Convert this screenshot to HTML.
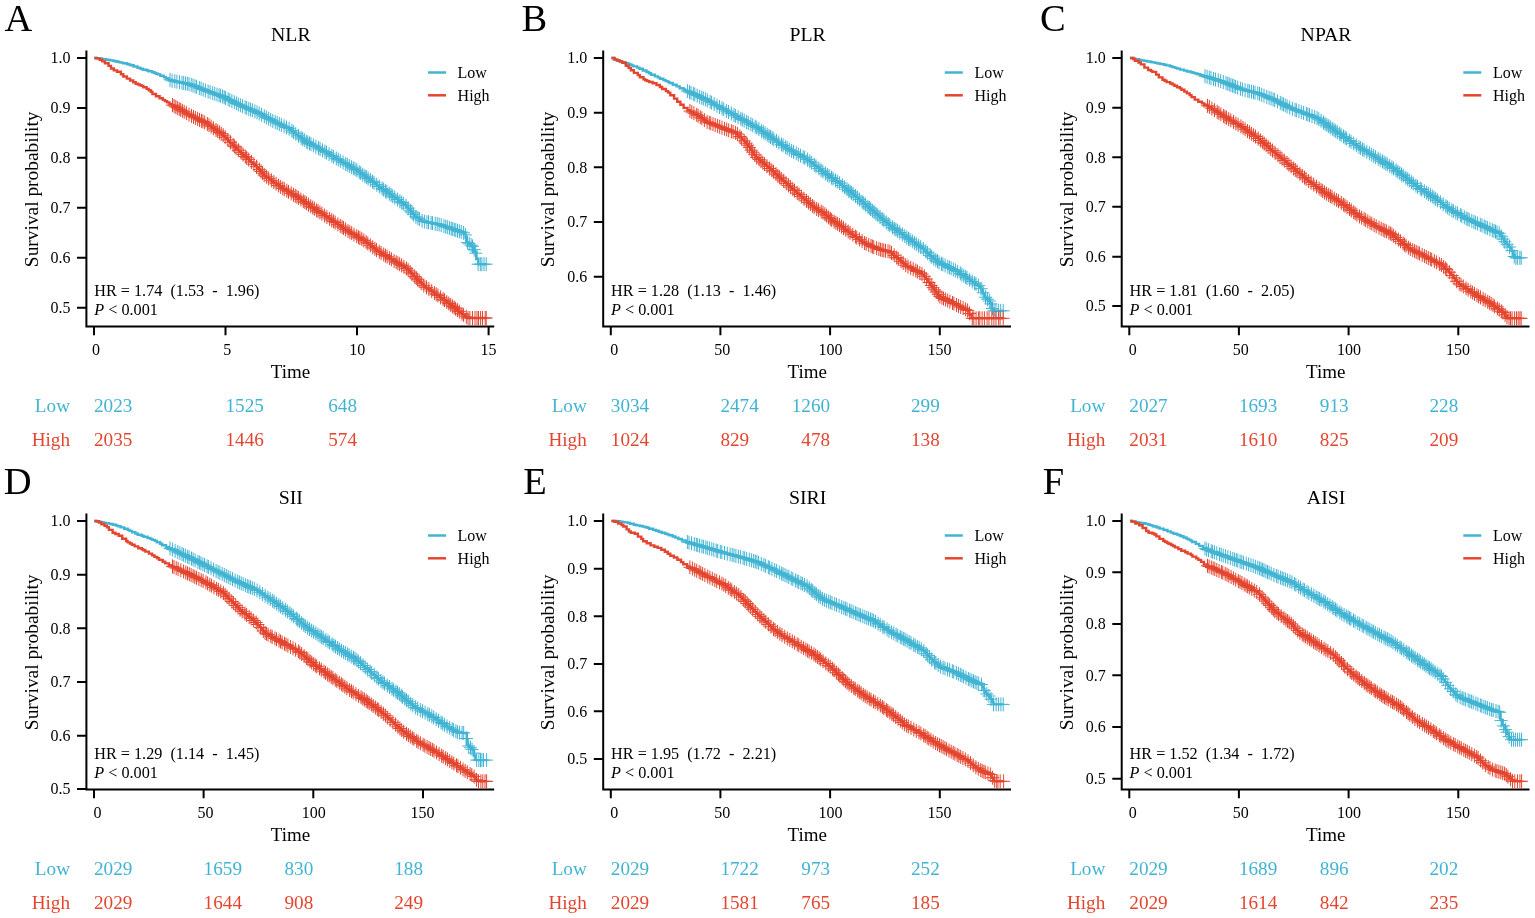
<!DOCTYPE html>
<html><head><meta charset="utf-8"><title>Kaplan-Meier curves</title>
<style>html,body{margin:0;padding:0;background:#fff;overflow:hidden;}svg{display:block;}</style></head>
<body><svg width="1535" height="918" viewBox="0 0 1535 918" font-family='"Liberation Serif", serif' fill="#000">
<rect width="1535" height="918" fill="#fff"/>
<g transform="translate(0 0)">
<text x="4.6" y="31" font-size="38.5">A</text>
<text x="290.8" y="41.1" font-size="19.8" text-anchor="middle">NLR</text>
<path d="M86.4 50.5V327.6M85.4 326.6H494.2" fill="none" stroke="#000" stroke-width="2"/>
<text x="70.4" y="63.4" font-size="16" text-anchor="end">1.0</text>
<text x="70.4" y="113.4" font-size="16" text-anchor="end">0.9</text>
<text x="70.4" y="163.1" font-size="16" text-anchor="end">0.8</text>
<text x="70.4" y="213.1" font-size="16" text-anchor="end">0.7</text>
<text x="70.4" y="263.1" font-size="16" text-anchor="end">0.6</text>
<text x="70.4" y="313.1" font-size="16" text-anchor="end">0.5</text>
<text x="96" y="354.8" font-size="16" text-anchor="middle">0</text>
<text x="227.3" y="354.8" font-size="16" text-anchor="middle">5</text>
<text x="357.3" y="354.8" font-size="16" text-anchor="middle">10</text>
<text x="488.6" y="354.8" font-size="16" text-anchor="middle">15</text>
<path d="M77 58H86M77 108H86M77 157.7H86M77 207.7H86M77 257.7H86M77 307.7H86M94 326V335.3M225.5 326V335.3M357 326V335.3M488.6 326V335.3" fill="none" stroke="#000" stroke-width="2"/>
<text x="290.5" y="377.7" font-size="19" text-anchor="middle">Time</text>
<text transform="translate(37.6 189.3) rotate(-90)" font-size="19.4" text-anchor="middle">Survival probability</text>
<path d="M94.3 58H96.6V58.2H98.5V58.5H101.6V58.9H103.3V59.3H106.1V59.7H108.5V60H110.2V60.4H113V60.8H114.6V61.3H117.1V61.7H118.8V62.1H120.5V62.6H123.1V63.3H126.7V64H128.5V64.5H130.5V65.2H133.6V66.5H137.5V67.7H140.4V68.7H142.9V69.7H146.9V70.5H148.5V71.3H152.1V72.3H154.3V73H156.2V73.7H158V74.4H160.3V75.7H163.8V77.1H165.8V78.3H168.7V79.8H171.8V80.8H173.2V81.1H174.9V81.4H175.8V81.5H176.7V81.7H177.8V82H179.7V82.4H181.2V82.6H182.5V82.9H184.2V83.2H185.7V83.5H187V83.8H189.1V84.2H191V84.8H192.2V85.4H193.9V86.1H195.6V86.8H197.8V87.7H199.7V88.3H201V89H203.4V89.7H204.3V90.2H205.8V90.8H207.8V91.4H208.9V91.9H210.5V92.3H211.3V92.8H213.2V93.5H215.2V94.1H216.9V94.8H219.1V95.4H220.4V96H222.3V96.7H224.1V97.5H225.8V98.3H227.3V99.2H229.5V100.4H231.8V101.3H233.4V102.2H235.2V102.8H236.1V103.6H238V104.5H239.9V105.5H242.3V106.4H244.4V107.1H245.6V107.7H247.1V108.3H248.9V108.9H249.8V109.4H251.3V110H252.4V110.4H253.4V110.8H254.3V111.4H256.3V112H257.3V112.6H258.5V113.4H259.9V114.3H262.1V115.2H263V115.8H264.6V116.7H266.2V117.8H268.4V118.9H270.6V120.1H272.7V121H274V121.7H275.4V122.4H276.8V123.2H279V124.3H281.4V125.1H282.4V125.6H283.5V126.2H284.7V126.7H285.8V127.4H287.4V128.2H289.2V128.9H290.4V129.6H291.2V130.5H292.7V131.6H294V132.8H295.7V134.4H298.1V136H300V137.3H301.6V138.6H303.4V140H305.3V141H306.2V142H308.4V143.1H310.4V144.3H312.6V145.4H314.7V146.3H316.2V147.1H317.6V147.7H318.6V148.5H320.4V149.2H321.3V149.7H322.2V150.2H323.3V150.8H324.4V151.5H325.7V152.2H326.6V152.7H327.4V153.3H328.4V153.9H329.4V154.6H330.8V155.2H331.6V156.1H333.8V157.3H335.6V158.2H336.6V158.9H337.8V159.6H339.2V160.4H340.6V161.1H341.6V162H343.7V163.3H346.1V164.4H347.7V165.3H349.3V166H350.2V166.6H351.2V167.2H352.5V168H353.7V168.9H355.8V169.8H356.9V170.5H357.7V171.6H360.1V173H361.7V174H362.7V175H364.4V175.9H365.3V176.8H366.9V178.2H369.3V179.9H371.5V181.4H373.4V182.5H374.6V183.4H376V184.3H377V185.4H379.1V186.7H380.7V188.1H382.8V189.3H384.1V190.2H385.3V191.3H387.4V193H389.7V194.6H391.9V196.1H394V197.6H396.1V199.1H398.1V200.2H399.2V201.2H400.9V202.3H402.2V203.1H403.1V203.7H403.9V204.5H405.2V205.3H406.4V206.8H408.3V209.3H410.6V211.6H412.1V213.9H414.4V216.4H416.8V217.9H419.2V219.1H420.5V219.9H421.7V220.6H422.8V221.3H424V221.5H425.1V221.8H426.9V222.2H429.1V222.7H431.3V223H432.8V223.4H434.7V223.8H436.8V224.1H437.7V224.3H439.6V224.8H441.8V225.6H443.9V226.3H445.9V226.9H447.4V227.4H448.5V227.9H450.6V228.5H451.9V229.1H454V229.8H456.3V230.5H457.8V230.9H459.2V231.6H461.5V232.3H463.5V232.8H464.6V233.2H465.6V237.5H466.6V242.5H468.9V244.1H471V245.3H472V246.5H474.1V251.6H476.5V259H478.3V264.2H479.7H481.4H482.4H483.2H485.6H486.2" fill="none" stroke="#42B4D3" stroke-width="2.4"/>
<path d="M170 72.8v14M172.1 73.8v14M174.8 74.3v14M176.9 74.7v14M179.5 75.2v14M182 75.7v14M183.7 76v14M185.5 76.4v14M187.3 76.7v14M189 77.1v14M191.2 77.8v14M193 78.5v14M195 79.3v14M196.6 79.9v14M199.3 81v14M201.1 81.7v14M203.2 82.5v14M205.4 83.4v14M208.1 84.4v14M210.1 85.1v14M212.7 86.1v14M214.8 86.8v14M217 87.6v14M219.1 88.3v14M220.6 88.8v14M222.6 89.5v14M224.2 90.3v14M225.6 91v14M228.1 92.3v14M229.8 93.1v14M231.9 94.1v14M234.3 95.3v14M236.4 96.4v14M238.3 97.3v14M240.4 98.3v14M242.6 99.2v14M245.1 100.3v14M246.7 100.9v14M248.8 101.8v14M250.6 102.6v14M252.4 103.3v14M254.9 104.4v14M257 105.3v14M259.2 106.5v14M261.6 107.8v14M264.3 109.3v14M266.3 110.4v14M268.6 111.6v14M270.7 112.7v14M272.8 113.9v14M275.2 115v14M277.2 116v14M279.3 117v14M281.4 118v14M284.1 119.3v14M286.5 120.5v14M289.1 121.7v14M291.9 123.7v14M293.6 125.1v14M295.8 126.8v14M298.5 128.9v14M301.1 130.8v14M302.7 132v14M304.3 133.1v14M306.3 134.6v14M307.8 135.4v14M309.5 136.4v14M311 137.2v14M313.4 138.4v14M315.9 139.7v14M318.5 141.1v14M320.1 142v14M322.5 143.3v14M324.9 144.6v14M326.5 145.6v14M329.1 147.1v14M331.8 148.8v14M333.6 149.8v14M336.3 151.5v14M338.2 152.6v14M340.3 153.9v14M343.1 155.4v14M345.7 156.9v14M347.3 157.8v14M349.3 159v14M351.4 160.2v14M353.3 161.2v14M355 162.2v14M356.8 163.3v14M359.2 165.1v14M360.7 166.1v14M362.8 167.7v14M364.9 169.1v14M366.3 170.1v14M368.1 171.5v14M370.4 173.1v14M372.5 174.7v14M374 175.7v14M376.8 177.7v14M379.3 179.5v14M382.1 181.5v14M383.6 182.6v14M385.4 183.9v14M386.8 184.9v14M389.3 186.7v14M391.1 188v14M392.7 189.2v14M394.7 190.6v14M397.4 192.5v14M399.9 194.3v14M401.7 195.6v14M403.3 196.8v14M406 198.7v14M408.2 201.1v14M410.5 204v14M412.1 205.8v14M413.6 207.6v14M415.9 209.8v14M417.9 211v14M419.4 212v14M422.1 213.7v14M424.4 214.6v14M426.9 215.1v14M428.5 215.4v14M431.1 215.9v14M432.5 216.2v14M435.2 216.7v14M437.2 217.1v14M439.1 217.5v14M441.2 218.1v14M443.9 219.1v14M445.7 219.7v14M447.3 220.2v14M449.4 221v14M451.2 221.6v14M452.7 222.1v14M454.3 222.7v14M455.8 223.1v14M457.5 223.7v14M459.3 224.3v14M461.2 224.9v14M463.6 225.8v14M465.4 227.9v14M467.5 235.6v14M469.2 236.8v14M471.1 238.2v14M472.5 239.3v14M474.2 242.7v14M475.7 246.2v14M478.1 257.2v14M480.3 257.2v14M481.9 257.2v14M484 257.2v14M486.2 257.2v14" fill="none" stroke="#42B4D3" stroke-width="1"/>
<path d="M163.5 79.8h13M165.6 80.8h13M168.3 81.3h13M170.4 81.7h13M173 82.2h13M175.5 82.7h13M177.2 83h13M179 83.4h13M180.8 83.7h13M182.5 84.1h13M184.7 84.8h13M186.5 85.5h13M188.5 86.3h13M190.1 86.9h13M192.8 88h13M194.6 88.7h13M196.7 89.5h13M198.9 90.4h13M201.6 91.4h13M203.6 92.1h13M206.2 93.1h13M208.3 93.8h13M210.5 94.6h13M212.6 95.3h13M214.1 95.8h13M216.1 96.5h13M217.7 97.3h13M219.1 98h13M221.6 99.3h13M223.3 100.1h13M225.4 101.1h13M227.8 102.3h13M229.9 103.4h13M231.8 104.3h13M233.9 105.3h13M236.1 106.2h13M238.6 107.3h13M240.2 107.9h13M242.3 108.8h13M244.1 109.6h13M245.9 110.3h13M248.4 111.4h13M250.5 112.3h13M252.7 113.5h13M255.1 114.8h13M257.8 116.3h13M259.8 117.4h13M262.1 118.6h13M264.2 119.7h13M266.3 120.9h13M268.7 122h13M270.7 123h13M272.8 124h13M274.9 125h13M277.6 126.3h13M280 127.5h13M282.6 128.7h13M285.4 130.7h13M287.1 132.1h13M289.3 133.8h13M292 135.9h13M294.6 137.8h13M296.2 139h13M297.8 140.1h13M299.8 141.6h13M301.3 142.4h13M303 143.4h13M304.5 144.2h13M306.9 145.4h13M309.4 146.7h13M312 148.1h13M313.6 149h13M316 150.3h13M318.4 151.6h13M320 152.6h13M322.6 154.1h13M325.3 155.8h13M327.1 156.8h13M329.8 158.5h13M331.7 159.6h13M333.8 160.9h13M336.6 162.4h13M339.2 163.9h13M340.8 164.8h13M342.8 166h13M344.9 167.2h13M346.8 168.2h13M348.5 169.2h13M350.3 170.3h13M352.7 172.1h13M354.2 173.1h13M356.3 174.7h13M358.4 176.1h13M359.8 177.1h13M361.6 178.5h13M363.9 180.1h13M366 181.7h13M367.5 182.7h13M370.3 184.7h13M372.8 186.5h13M375.6 188.5h13M377.1 189.6h13M378.9 190.9h13M380.3 191.9h13M382.8 193.7h13M384.6 195h13M386.2 196.2h13M388.2 197.6h13M390.9 199.5h13M393.4 201.3h13M395.2 202.6h13M396.8 203.8h13M399.5 205.7h13M401.7 208.1h13M404 211h13M405.6 212.8h13M407.1 214.6h13M409.4 216.8h13M411.4 218h13M412.9 219h13M415.6 220.7h13M417.9 221.6h13M420.4 222.1h13M422 222.4h13M424.6 222.9h13M426 223.2h13M428.7 223.7h13M430.7 224.1h13M432.6 224.5h13M434.7 225.1h13M437.4 226.1h13M439.2 226.7h13M440.8 227.2h13M442.9 228h13M444.7 228.6h13M446.2 229.1h13M447.8 229.7h13M449.3 230.1h13M451 230.7h13M452.8 231.3h13M454.7 231.9h13M457.1 232.8h13M458.9 234.9h13M461 242.6h13M462.7 243.8h13M464.6 245.2h13M466 246.3h13M467.7 249.7h13M469.2 253.2h13M471.6 264.2h13M473.8 264.2h13M475.4 264.2h13M477.5 264.2h13M479.7 264.2h13" fill="none" stroke="#42B4D3" stroke-width="1"/>
<path d="M94.3 58H96.1V58.4H99.6V59.8H102.2V61.4H104.9V63.3H108.5V65.9H111V68.5H113.8V70.4H117V71.8H120.9V74.2H123.3V76.5H126.9V78.6H130.1V80.5H133.2V82.2H135.7V83.7H138.1V84.5H139.8V85.2H141.6V85.9H143.3V87.3H146.6V88.9H148.7V90.3H150.7V91.8H152.4V94H156V96.2H159.6V98.3H162.8V99.9H165V101.1H167.1V102.4H169.4V103.9H172V105.2H173.9V106.2H175.4V107H176.6V108H179V109.4H181.3V110.5H183V111.3H184.2V112.3H186.5V113.4H187.8V114.2H189.2V114.8H190V115.4H191.4V116.1H193V116.9H194.6V117.6H195.7V118.2H197.3V118.8H198.1V119.3H199.3V119.9H200.3V120.5H201.7V121H202.6V121.5H203.4V122H204.7V122.6H205.9V123.3H207.6V124.5H209.3V125.8H211.3V127.2H213.1V128.5H215.1V130H217.3V131.3H218.7V132.2H220V133.5H222.4V134.7H223.4V136.1H225.4V138H227.2V139.3H228.1V140.8H230.2V143H232.5V144.9H234.3V146.8H236.2V148.8H238.3V150.4H239.4V151.7H241V153.1H242.6V154.8H244.7V156.7H246.8V158.6H249V160.3H250.7V162.1H252.9V164H254.8V165.7H256.7V167.2H257.9V168.2H258.7V169.3H259.8V170.6H261.1V171.8H262.1V173.5H264.2V175.6H265.9V176.8H267.7V178.1H269.5V179.4H271.4V180.7H273V181.5H273.8V182.6H275.9V184H277.9V185.3H279.5V186.5H281.1V187.7H283V188.6H283.9V189.4H285.9V190.4H287.1V191H288V191.7H289.2V192.6H291.2V193.6H292.3V194.5H294.3V195.8H296.7V197H298.3V198H299.7V199H301.2V200.2H303.1V201.5H305.2V202.8H306.9V204.1H308.8V205H309.7V205.7H310.7V206.5H311.9V207.6H313.9V208.7H315.2V209.7H316.9V210.5H317.7V211.1H318.6V211.8H319.9V212.8H321.8V214.1H323.7V215.3H325.5V216.4H326.8V217.3H328.4V218.4H330V219.4H331.5V220.2H332.5V221.3H334.7V222.4H335.9V223.5H338.2V225.1H340.5V226.1H341.3V226.9H342.9V228.1H345V229.6H347.3V230.9H348.9V231.7H350.1V232.4H351.2V233.4H353.5V234.5H354.7V235.3H356.4V236.2H357.4V237H359.1V238.1H361.4V239.1H362.4V240.1H364.5V241.3H366.1V242.7H368.4V244.3H370.3V245.5H371.5V246.8H373.7V248.3H375.3V249.2H376.1V249.9H376.9V250.6H378.5V251.6H380V252.5H381.3V253.2H382.3V253.9H383.7V254.8H385V255.8H387.1V256.8H387.9V257.6H389.9V258.9H392.1V259.8H393.1V260.8H395.3V262.1H397.3V263.3H399.5V264.4H400.8V265.2H402.2V266H403.6V267.2H406V268.5H407.8V270.1H409.1V271.5H410.6V272.9H411.9V273.9H412.7V274.9H413.7V276.4H415.8V278.1H417.1V279.9H419.4V281.7H420.6V282.9H421.8V284.3H423.4V285.5H424.5V286.4H425.9V287.7H428.3V289.3H430.5V290.8H432.6V292.1H434.4V293.6H436.7V295.2H439V296.6H440.6V297.9H442.6V299H443.5V300H445.4V301.4H447V302.7H449V304.1H450.8V305.3H452.1V306.1H452.9V307.3H455.2V308.6H456.2V309.6H457.8V310.7H459.1V311.8H460.4V313.1H462.4V314.6H464.7V315.9H466V317H467.8V318H469.1H470.8H472.2H473.3H474.3H475.5H477.7H479.3H480.5H482.7H485.1H486.2" fill="none" stroke="#E4452F" stroke-width="2.4"/>
<path d="M172.5 98.1v14M174.1 99v14M175.8 100v14M177.3 100.9v14M179.2 102v14M180.7 102.8v14M182.4 103.8v14M184.2 104.8v14M186.4 106.1v14M189 107.6v14M191.5 108.9v14M193.5 109.9v14M195.4 110.9v14M197.6 111.9v14M199.5 112.9v14M201.4 113.8v14M202.9 114.5v14M204.7 115.4v14M207.4 117v14M209 118.1v14M211.1 119.6v14M213.4 121.2v14M216 123v14M217.7 124.2v14M219.5 125.5v14M221.2 126.7v14M223.2 128.2v14M225.2 130.2v14M227.9 132.9v14M230.5 135.4v14M233.1 138v14M234.6 139.4v14M236 140.9v14M238.4 143.2v14M241.1 145.7v14M243.1 147.6v14M245.3 149.6v14M246.7 150.8v14M248.7 152.6v14M251.4 155v14M253.9 157.3v14M256.5 159.7v14M259.3 162.6v14M261.1 164.5v14M262.6 166.2v14M264.2 168v14M266.4 169.7v14M268.7 171.4v14M271.4 173.3v14M273.8 175.1v14M276.1 176.7v14M278.6 178.5v14M280.7 180v14M282.8 181.4v14M284.3 182.2v14M286.8 183.7v14M288.5 184.8v14M291.2 186.4v14M293.5 187.8v14M295.3 188.9v14M296.9 189.8v14M298.6 190.9v14M300.9 192.5v14M303.3 194.2v14M304.9 195.2v14M306.4 196.3v14M308.5 197.7v14M310.7 199.3v14M312.7 200.6v14M314.4 201.8v14M316.6 203.3v14M318 204.2v14M319.9 205.4v14M321.9 206.7v14M324.6 208.6v14M326.9 210.1v14M329.6 211.8v14M331.7 213.2v14M333.4 214.3v14M335.1 215.5v14M337.9 217.3v14M340.3 218.9v14M342.1 220.1v14M343.5 221v14M345.6 222.4v14M348 224v14M349.9 225.2v14M351.7 226.2v14M354 227.6v14M356.7 229.2v14M358.5 230.3v14M359.9 231.1v14M361.8 232.2v14M363.8 233.4v14M366.1 235.1v14M367.8 236.4v14M370.3 238.3v14M372.7 240.2v14M374.9 241.8v14M376.5 243.1v14M379.3 244.8v14M381.1 246v14M383.7 247.5v14M385.4 248.6v14M387.1 249.7v14M389.6 251.2v14M391.4 252.3v14M394.1 254v14M396.2 255.2v14M397.9 256.2v14M399.6 257.2v14M401.6 258.4v14M403.9 259.8v14M406.6 261.5v14M408.2 263.2v14M410.2 265.1v14M411.9 266.8v14M414.7 269.6v14M416.3 271.2v14M417.7 272.7v14M419.2 274.2v14M421.2 276.2v14M423.8 278.6v14M426.5 280.4v14M428.9 282.1v14M431.7 284.1v14M434.4 286v14M436.2 287.3v14M437.9 288.4v14M440.6 290.4v14M443.1 292.2v14M444.5 293.3v14M446.8 295.1v14M448.8 296.5v14M450.7 298v14M452.6 299.4v14M454.2 300.6v14M455.6 301.7v14M457.4 303.1v14M459.3 304.6v14M462 306.7v14M463.6 307.9v14M466.3 309.8v14M468 311v14M469.9 311v14M472.5 311v14M475 311v14M477 311v14M478.5 311v14M480.6 311v14M482.5 311v14M485.2 311v14M486.2 311v14" fill="none" stroke="#E4452F" stroke-width="1"/>
<path d="M166 105.1h13M167.6 106h13M169.3 107h13M170.8 107.9h13M172.7 109h13M174.2 109.8h13M175.9 110.8h13M177.7 111.8h13M179.9 113.1h13M182.5 114.6h13M185 115.9h13M187 116.9h13M188.9 117.9h13M191.1 118.9h13M193 119.9h13M194.9 120.8h13M196.4 121.5h13M198.2 122.4h13M200.9 124h13M202.5 125.1h13M204.6 126.6h13M206.9 128.2h13M209.5 130h13M211.2 131.2h13M213 132.5h13M214.7 133.7h13M216.7 135.2h13M218.7 137.2h13M221.4 139.9h13M224 142.4h13M226.6 145h13M228.1 146.4h13M229.5 147.9h13M231.9 150.2h13M234.6 152.7h13M236.6 154.6h13M238.8 156.6h13M240.2 157.8h13M242.2 159.6h13M244.9 162h13M247.4 164.3h13M250 166.7h13M252.8 169.6h13M254.6 171.5h13M256.1 173.2h13M257.7 175h13M259.9 176.7h13M262.2 178.4h13M264.9 180.3h13M267.3 182.1h13M269.6 183.7h13M272.1 185.5h13M274.2 187h13M276.3 188.4h13M277.8 189.2h13M280.3 190.7h13M282 191.8h13M284.7 193.4h13M287 194.8h13M288.8 195.9h13M290.4 196.8h13M292.1 197.9h13M294.4 199.5h13M296.8 201.2h13M298.4 202.2h13M299.9 203.3h13M302 204.7h13M304.2 206.3h13M306.2 207.6h13M307.9 208.8h13M310.1 210.3h13M311.5 211.2h13M313.4 212.4h13M315.4 213.7h13M318.1 215.6h13M320.4 217.1h13M323.1 218.8h13M325.2 220.2h13M326.9 221.3h13M328.6 222.5h13M331.4 224.3h13M333.8 225.9h13M335.6 227.1h13M337 228h13M339.1 229.4h13M341.5 231h13M343.4 232.2h13M345.2 233.2h13M347.5 234.6h13M350.2 236.2h13M352 237.3h13M353.4 238.1h13M355.3 239.2h13M357.3 240.4h13M359.6 242.1h13M361.3 243.4h13M363.8 245.3h13M366.2 247.2h13M368.4 248.8h13M370 250.1h13M372.8 251.8h13M374.6 253h13M377.2 254.5h13M378.9 255.6h13M380.6 256.7h13M383.1 258.2h13M384.9 259.3h13M387.6 261h13M389.7 262.2h13M391.4 263.2h13M393.1 264.2h13M395.1 265.4h13M397.4 266.8h13M400.1 268.5h13M401.7 270.2h13M403.7 272.1h13M405.4 273.8h13M408.2 276.6h13M409.8 278.2h13M411.2 279.7h13M412.7 281.2h13M414.7 283.2h13M417.3 285.6h13M420 287.4h13M422.4 289.1h13M425.2 291.1h13M427.9 293h13M429.7 294.3h13M431.4 295.4h13M434.1 297.4h13M436.6 299.2h13M438 300.3h13M440.3 302.1h13M442.3 303.5h13M444.2 305h13M446.1 306.4h13M447.7 307.6h13M449.1 308.7h13M450.9 310.1h13M452.8 311.6h13M455.5 313.7h13M457.1 314.9h13M459.8 316.8h13M461.5 318h13M463.4 318h13M466 318h13M468.5 318h13M470.5 318h13M472 318h13M474.1 318h13M476 318h13M478.7 318h13M479.7 318h13" fill="none" stroke="#E4452F" stroke-width="1"/>
<path d="M428 72.5H446" stroke="#42B4D3" stroke-width="2.5"/>
<path d="M428 95.3H446" stroke="#E4452F" stroke-width="2.5"/>
<text x="457.6" y="78" font-size="16">Low</text>
<text x="457.6" y="100.5" font-size="16">High</text>
<text x="94.3" y="296.4" font-size="16.2" xml:space="preserve">HR = 1.74  (1.53  -  1.96)</text>
<text x="94.3" y="315.4" font-size="16.2" xml:space="preserve"><tspan font-style="italic">P</tspan> &lt; 0.001</text>
<text x="70" y="412.4" font-size="19.2" text-anchor="end" fill="#42B4D3">Low</text>
<text x="70" y="445.7" font-size="19.2" text-anchor="end" fill="#E4452F">High</text>
<text x="94" y="412.4" font-size="19.2" text-anchor="start" fill="#42B4D3">2023</text>
<text x="225.5" y="412.4" font-size="19.2" text-anchor="start" fill="#42B4D3">1525</text>
<text x="357" y="412.4" font-size="19.2" text-anchor="end" fill="#42B4D3">648</text>
<text x="94" y="445.7" font-size="19.2" text-anchor="start" fill="#E4452F">2035</text>
<text x="225.5" y="445.7" font-size="19.2" text-anchor="start" fill="#E4452F">1446</text>
<text x="357" y="445.7" font-size="19.2" text-anchor="end" fill="#E4452F">574</text>
</g>
<g transform="translate(516.8 0)">
<text x="4.8" y="31" font-size="38.5">B</text>
<text x="290.8" y="41.1" font-size="19.8" text-anchor="middle">PLR</text>
<path d="M86.4 50.5V327.6M85.4 326.6H494.2" fill="none" stroke="#000" stroke-width="2"/>
<text x="70.4" y="63.4" font-size="16" text-anchor="end">1.0</text>
<text x="70.4" y="118.1" font-size="16" text-anchor="end">0.9</text>
<text x="70.4" y="172.7" font-size="16" text-anchor="end">0.8</text>
<text x="70.4" y="227.4" font-size="16" text-anchor="end">0.7</text>
<text x="70.4" y="282.1" font-size="16" text-anchor="end">0.6</text>
<text x="97.5" y="354.8" font-size="16" text-anchor="middle">0</text>
<text x="205.5" y="354.8" font-size="16" text-anchor="middle">50</text>
<text x="313.7" y="354.8" font-size="16" text-anchor="middle">100</text>
<text x="422.6" y="354.8" font-size="16" text-anchor="middle">150</text>
<path d="M77 58H86M77 112.7H86M77 167.3H86M77 222H86M77 276.7H86M94 326V335.3M203.6 326V335.3M313.3 326V335.3M423 326V335.3" fill="none" stroke="#000" stroke-width="2"/>
<text x="290.5" y="377.7" font-size="19" text-anchor="middle">Time</text>
<text transform="translate(37.6 189.3) rotate(-90)" font-size="19.4" text-anchor="middle">Survival probability</text>
<path d="M94.6 58H97V59.5H100.8V60.4H102.3V61.1H104.9V62.1H108.4V63.3H111.8V64.2H113.4V64.8H115V65.4H116.6V66.4H120.4V67.6H122.6V68.7H126V70.5H129.7V72H132.1V73.2H134.2V74.7H138.1V76.4H141.2V77.6H143.3V78.8H146.6V80.1H148.9V81.1H151.1V81.9H152.6V83H156V84.7H159.8V86.4H162.9V88.2H166.7V89.5H168.3V90.4H170.4V91.5H173.1V92.6H175.4V93.7H177.7V94.6H179.1V95.2H180.3V95.8H181.8V96.5H183.4V97.4H185.7V98.2H186.8V98.9H188.9V99.8H190.9V100.9H193V102.1H195V103.1H196.8V104H198.1V104.7H199.4V105.5H200.8V106.4H202.9V107.2H203.8V107.8H204.9V108.6H206.9V109.5H208.1V110.1H209V110.6H209.9V111.3H211.5V112.1H212.9V113.1H215.2V114.4H217.4V115.6H219.8V116.6H221V117.2H222V117.7H222.9V118.4H224.5V119.4H226.5V120.4H228V121.1H229.2V121.8H230.6V122.7H232.4V123.7H234.3V124.8H236.3V125.9H238.4V127H240.3V127.9H241.3V129H243.4V130.2H244.7V131.2H246.4V132.3H247.8V133.4H249.8V134.5H250.9V135.3H252.1V136.1H253.3V136.9H254.4V138H256.6V139.4H258.3V140.4H259.6V141.3H261.1V142.5H263.4V143.9H265.1V144.8H266.2V145.9H268.3V147.2H270.2V148.6H272.5V149.7H273.5V150.4H275.1V151.4H277.2V152.6H279.3V153.7H281.6V154.6H282.5V155.2H283.7V155.8H284.7V156.3H285.8V157.3H288.2V158.4H289.9V159.7H292.2V161.1H293.6V162.5H295.8V163.9H297.3V165H298.5V166.3H300.6V168H302.9V169.2H303.8V170.3H305.6V171.7H307.4V172.7H308.5V173.6H309.9V174.4H310.9V175.2H312.1V176H313.3V177H315V178.3H316.9V179.3H318V180H318.8V180.7H320.1V181.8H322V182.9H323.1V183.7H324.4V184.7H325.6V186H327.6V187.5H329.3V188.6H330.2V189.3H331.2V190.3H332.6V191.5H334.3V193H336.1V194.1H337.1V194.9H338.1V196.1H340V197.5H341.5V198.7H342.7V199.8H344V201.3H346.4V202.9H347.7V204.2H349.4V205.5H350.7V206.8H352.2V208.4H354.4V210.3H356.8V212H358.2V213H359.3V214.3H361.2V215.6H362.4V216.4H363.2V217.7H365.4V219.3H366.9V220.8H369V222.3H370.5V223.9H372.7V225.4H374.2V226.4H375.3V227.1H376.1V228H377.8V229.2H379.6V230.7H381.9V231.8H382.8V232.8H384.6V234H386V235H387.6V236H388.6V236.8H389.9V237.8H391.5V239.2H393.8V240.3H394.8V241.2H396.3V242.5H398.4V244H400.8V245.2H401.9V245.9H402.9V247H405.2V248.6H407.6V250.4H409.1V251.5H410V253H412.3V254.7H413.7V256.4H416V258.3H417.8V259.7H419.9V260.8H420.9V261.9H423V263H424.2V263.7H425.6V264.5H427.8V265.6H429.9V266.3H431V266.9H432.1V267.5H433.6V268.2H435.2V268.9H436.6V269.5H437.6V270H438.8V270.8H440.8V272.1H443V273.2H443.9V274.1H445.6V275.3H447.6V276.3H448.4V277.3H450.6V278.4H451.6V279.3H453.3V280.4H455V281.6H456.8V282.6H458.1V283.6H459.6V284.6H461.3V285.7H462.8V287.1H464.6V290.5H466.2V293.5H467.7V295.8H468.5V297.6H470.3V299.3H471.9V300.7H473V303.2H475.1V308.6H477.1V310.8H478.6H479.7H481.3H482.3H483.3H484.8H485.7H486.4" fill="none" stroke="#42B4D3" stroke-width="2.4"/>
<path d="M170.6 84.1v14M172.7 85.1v14M174.2 85.8v14M176.5 86.8v14M178 87.5v14M180.4 88.6v14M182.9 89.8v14M185 90.7v14M186.5 91.4v14M188.6 92.4v14M190.5 93.3v14M193.3 94.8v14M194.8 95.7v14M197.4 97.2v14M200.2 98.7v14M202.7 100v14M205.2 101.4v14M206.9 102.3v14M209.6 103.9v14M211.7 105v14M214.5 106.5v14M217.2 108v14M218.8 108.9v14M221.3 110.3v14M224 111.7v14M225.5 112.6v14M227.4 113.6v14M229.8 115v14M231.5 115.9v14M234.1 117.3v14M235.9 118.3v14M238.4 119.7v14M240 120.6v14M242.1 122v14M244.8 123.9v14M246.5 125.1v14M248.3 126.3v14M250.4 127.7v14M252.2 129v14M253.7 130v14M255.4 131.1v14M257 132.3v14M259.7 134v14M262 135.6v14M264.7 137.4v14M266.3 138.4v14M268.8 140.1v14M270.4 141.1v14M272.5 142.6v14M274.8 143.9v14M276.7 144.9v14M279.4 146.3v14M281.5 147.5v14M283.7 148.7v14M286.4 150.1v14M287.9 150.9v14M290.7 152.6v14M293 154.4v14M294.9 155.9v14M297.5 157.9v14M299.2 159.3v14M302 161.4v14M304.2 163.2v14M306.1 164.6v14M308.6 166.4v14M310.6 167.8v14M312.3 168.9v14M314.7 170.6v14M316.2 171.6v14M318.7 173.4v14M320.5 174.6v14M322.8 176.2v14M325.6 178.4v14M327.8 180.2v14M330.1 182.1v14M331.9 183.6v14M333.3 184.7v14M334.8 185.9v14M336.4 187.2v14M338.7 189v14M340.7 190.7v14M342.8 192.5v14M345.4 194.8v14M347 196.2v14M348.7 197.7v14M351.1 199.7v14M352.5 200.9v14M353.9 202.1v14M355.8 203.8v14M357.3 205.1v14M359.2 206.7v14M361 208.2v14M363.2 210v14M365.4 211.9v14M367.1 213.3v14M369.4 215.3v14M371.4 217v14M373 218.3v14M375.7 220.3v14M377.5 221.6v14M379.1 222.7v14M380.6 223.8v14M382.9 225.5v14M385.5 227.3v14M388 229.1v14M390 230.6v14M391.7 231.8v14M393.2 232.7v14M395.5 234.3v14M397.6 235.8v14M399.5 237.1v14M401.8 238.7v14M403.9 240.1v14M406.6 242v14M409 244.2v14M410.8 245.9v14M413.4 248.3v14M414.9 249.7v14M417 251.6v14M419 253v14M420.7 254.2v14M422.2 255.3v14M424.7 256.7v14M426.1 257.4v14M428.3 258.4v14M431 259.7v14M432.6 260.5v14M434.3 261.3v14M436.5 262.4v14M438.6 263.4v14M440.9 264.7v14M443.5 266.4v14M445.1 267.5v14M447 268.8v14M448.8 270v14M450.2 271v14M452.9 272.8v14M455.4 274.5v14M457.8 276.1v14M459.2 277v14M461.8 278.7v14M464.2 281.7v14M466.3 285.8v14M468.7 290.2v14M470.7 292.2v14M472.5 294v14M474 296.9v14M475.7 301.5v14M477.2 303.8v14M479.1 303.8v14M481.5 303.8v14M483.9 303.8v14M486.4 303.8v14" fill="none" stroke="#42B4D3" stroke-width="1"/>
<path d="M164.1 91.1h13M166.2 92.1h13M167.7 92.8h13M170 93.8h13M171.5 94.5h13M173.9 95.6h13M176.4 96.8h13M178.5 97.7h13M180 98.4h13M182.1 99.4h13M184 100.3h13M186.8 101.8h13M188.3 102.7h13M190.9 104.2h13M193.7 105.7h13M196.2 107h13M198.7 108.4h13M200.4 109.3h13M203.1 110.9h13M205.2 112h13M208 113.5h13M210.7 115h13M212.3 115.9h13M214.8 117.3h13M217.5 118.7h13M219 119.6h13M220.9 120.6h13M223.3 122h13M225 122.9h13M227.6 124.3h13M229.4 125.3h13M231.9 126.7h13M233.5 127.6h13M235.6 129h13M238.3 130.9h13M240 132.1h13M241.8 133.3h13M243.9 134.7h13M245.7 136h13M247.2 137h13M248.9 138.1h13M250.5 139.3h13M253.2 141h13M255.5 142.6h13M258.2 144.4h13M259.8 145.4h13M262.3 147.1h13M263.9 148.1h13M266 149.6h13M268.3 150.9h13M270.2 151.9h13M272.9 153.3h13M275 154.5h13M277.2 155.7h13M279.9 157.1h13M281.4 157.9h13M284.2 159.6h13M286.5 161.4h13M288.4 162.9h13M291 164.9h13M292.7 166.3h13M295.5 168.4h13M297.7 170.2h13M299.6 171.6h13M302.1 173.4h13M304.1 174.8h13M305.8 175.9h13M308.2 177.6h13M309.7 178.6h13M312.2 180.4h13M314 181.6h13M316.3 183.2h13M319.1 185.4h13M321.3 187.2h13M323.6 189.1h13M325.4 190.6h13M326.8 191.7h13M328.3 192.9h13M329.9 194.2h13M332.2 196h13M334.2 197.7h13M336.3 199.5h13M338.9 201.8h13M340.5 203.2h13M342.2 204.7h13M344.6 206.7h13M346 207.9h13M347.4 209.1h13M349.3 210.8h13M350.8 212.1h13M352.7 213.7h13M354.5 215.2h13M356.7 217h13M358.9 218.9h13M360.6 220.3h13M362.9 222.3h13M364.9 224h13M366.5 225.3h13M369.2 227.3h13M371 228.6h13M372.6 229.7h13M374.1 230.8h13M376.4 232.5h13M379 234.3h13M381.5 236.1h13M383.5 237.6h13M385.2 238.8h13M386.7 239.7h13M389 241.3h13M391.1 242.8h13M393 244.1h13M395.3 245.7h13M397.4 247.1h13M400.1 249h13M402.5 251.2h13M404.3 252.9h13M406.9 255.3h13M408.4 256.7h13M410.5 258.6h13M412.5 260h13M414.2 261.2h13M415.7 262.3h13M418.2 263.7h13M419.6 264.4h13M421.8 265.4h13M424.5 266.7h13M426.1 267.5h13M427.8 268.3h13M430 269.4h13M432.1 270.4h13M434.4 271.7h13M437 273.4h13M438.6 274.5h13M440.5 275.8h13M442.3 277h13M443.7 278h13M446.4 279.8h13M448.9 281.5h13M451.3 283.1h13M452.7 284h13M455.3 285.7h13M457.7 288.7h13M459.8 292.8h13M462.2 297.2h13M464.2 299.2h13M466 301h13M467.5 303.9h13M469.2 308.5h13M470.7 310.8h13M472.6 310.8h13M475 310.8h13M477.4 310.8h13M479.9 310.8h13" fill="none" stroke="#42B4D3" stroke-width="1"/>
<path d="M94.6 58H97.9V59.6H100V60.5H102.9V61.5H105.5V62.8H109V65.7H111.8V67.9H114V70.2H117.1V72.9H121V75.1H123V77.3H126.7V79.2H128.3V80.3H130.4V81.1H132.5V82H135.9V83.3H139.7V85H143.1V87H145.4V89H149.1V91.1H151.4V92.6H153.5V95.2H157.3V98.6H160.4V101.8H163.6V104.7H166.8V107.9H170.7V110.2H173.4V111.6H175.5V112.7H177.4V113.9H179.6V114.9H181.1V115.9H183.1V117.2H184.8V118.3H186.1V119.2H187.2V120.2H189V121.2H189.9V122H192.2V122.7H193.2V123.1H194.1V123.4H195V124.1H197.3V124.8H198.7V125.3H199.7V125.6H200.6V126H201.4V126.5H203.3V127.2H205.1V128H207.1V128.7H209V129.3H209.9V129.8H211.7V130.4H213.1V131H215.2V131.8H217.3V132.6H219.5V133.2H220.4V134.6H222.6V136.9H224.9V139.2H227.2V140.9H228.2V142H229.3V143.4H230.3V144.7H231.1V146.7H233.3V149.6H235.4V152.2H237.2V154.9H239.3V157.5H241.1V158.8H242.4V159.8H243.3V160.6H244.3V161.8H246.3V163.2H247.4V164.2H248.7V165.4H250.2V166.4H251.1V167.2H252.3V168.3H253.5V169.7H255.5V171.1H256.9V172.3H258.2V173.9H260.5V175.7H262.1V177.4H264.3V179.2H266.1V180.4H266.9V181.4H268.4V182.7H269.9V184.3H271.9V185.9H273.3V187.3H275.2V188.9H276.9V190.1H278V191.6H280.2V192.9H281.1V194.2H283.2V195.6H284.3V196.4H285.1V197.2H286.2V198.5H288.3V200.4H290.6V201.7H291.4V202.7H293V204H294.6V205.6H296.7V206.9H297.8V208H299.4V208.9H300.7V210H302.8V210.9H304.1V212H306.4V213.1H307.6V214.1H308.8V215.4H310.7V216.9H312.3V218H313.3V219.1H315.1V220.2H316V221.2H318.1V222.5H320V223.9H322V225.1H323.9V226.3H325.2V227.3H326.7V228.4H328.1V229.7H330.3V230.9H331.3V232H333.5V233.1H334.3V233.8H335.4V234.6H336.7V235.8H338.9V237.2H340.5V238.2H341.9V239.5H344.1V240.7H345.3V241.6H346.8V242.7H348.5V243.7H350.5V244.6H352.5V245.5H354.3V246.2H355.7V246.8H357V247.2H358.1V247.8H360.2V248.5H362.1V249.2H364.1V249.8H365.1V250.1H366.6V250.5H368.7V250.9H370.4V251.2H371.4V251.4H372.9V252.2H375.2V253.7H376.3V254.7H377.4V255.7H378.7V257.1H380.7V258.9H382.8V260.2H383.9V261.1H384.9V262H386.1V263.1H387.4V264.3H389.1V265.5H390.1V266.3H391.4V266.9H392.5V267.7H394.9V268.7H396.9V269.4H397.8V270.3H400.2V271.3H401.1V272H402.5V273.1H404.9V274.4H407V276.4H409V278.7H410.5V280.5H411.6V282.4H413.4V284.3H414.4V285.6H415.5V287.3H416.9V288.8H417.8V290.2H419.2V292.5H421.3V295.1H423.2V296.9H424.8V297.8H426.6V298.6H428.1V299.3H429.2V300H430.9V300.8H432.4V301.6H434.4V302.7H436.6V303.6H438.1V304.4H439.8V305.3H441.8V306.2H443.3V306.8H444.5V307.6H446.4V308.6H448.6V309.7H450.7V310.7H452.6V314.8H454.8V318.3H456.6H458.5H460H461.3H463.1H464.1H465.5H467.6H469.5H471.3H472.5H474H475.5H477.3H478.8H480.7H483H484H485.9H486.4" fill="none" stroke="#E4452F" stroke-width="2.4"/>
<path d="M173.1 104v14M175 105.1v14M177.1 106.3v14M179.9 107.8v14M181.3 108.7v14M183.5 110.2v14M185.1 111.3v14M187.6 113.1v14M190.3 114.9v14M192.5 115.7v14M194 116.3v14M196.2 117.2v14M198.4 118v14M200.8 119v14M202.9 119.8v14M205.2 120.7v14M207.8 121.7v14M209.9 122.5v14M211.9 123.3v14M214.6 124.3v14M216.3 124.9v14M218.6 125.8v14M220.6 127v14M223.1 129.5v14M224.6 131.1v14M227.4 133.9v14M229.3 136.2v14M230.8 138.2v14M232.6 140.6v14M234.5 143.2v14M235.9 145.2v14M237.9 147.8v14M239.9 150.5v14M242.3 152.5v14M244.2 154.1v14M246 155.7v14M247.7 157.1v14M250.1 159.2v14M252.8 161.5v14M255 163.3v14M256.7 164.8v14M259.2 167v14M261.1 168.8v14M262.8 170.3v14M264.4 171.8v14M266.9 174v14M269.4 176.3v14M271.7 178.4v14M273.8 180.2v14M276 182.1v14M277.7 183.6v14M280.4 186v14M282.3 187.6v14M284.6 189.6v14M287.2 191.7v14M289.7 193.8v14M291.8 195.6v14M293.6 197.1v14M295.8 198.9v14M297.3 200.3v14M299.9 202v14M301.8 203.1v14M304.4 204.7v14M306.2 205.7v14M308.1 207.2v14M309.8 208.7v14M311.8 210.4v14M313.5 211.8v14M314.9 213v14M317.3 214.6v14M319.1 215.8v14M320.8 216.9v14M322.7 218.1v14M324.7 219.6v14M326.7 221.1v14M329 222.8v14M331.4 224.5v14M333.3 225.9v14M336 227.7v14M338.6 229.6v14M340 230.6v14M342.6 232.4v14M345.3 234.2v14M347.8 236v14M349.4 236.8v14M351.9 237.9v14M354.2 238.9v14M355.6 239.6v14M357 240.2v14M359.8 241.1v14M362.1 242v14M363.8 242.6v14M365.4 243.1v14M367 243.4v14M368.7 243.8v14M371.2 244.3v14M373.1 244.7v14M374.7 246v14M377.4 248.3v14M379.9 250.5v14M381.5 251.9v14M384.2 254.2v14M386.4 256.1v14M388.9 258.2v14M391.2 259.6v14M393.9 260.9v14M396.4 262.1v14M399 263.5v14M400.6 264.5v14M403 265.9v14M405.2 267.1v14M407.6 269.3v14M409.6 272v14M412.2 275.5v14M414.4 278.4v14M416.2 280.7v14M417.9 282.9v14M419.5 285v14M421.6 287.6v14M423.1 289.6v14M425.1 290.7v14M426.7 291.5v14M428.8 292.5v14M430.9 293.5v14M433.1 294.6v14M435.7 295.9v14M437.1 296.6v14M439.7 297.9v14M441.7 298.9v14M443.9 300v14M446.3 301.2v14M448.8 302.4v14M450.8 303.4v14M452.7 306.4v14M455.5 311.3v14M457 311.3v14M459.3 311.3v14M461.6 311.3v14M463 311.3v14M465.3 311.3v14M467.6 311.3v14M470.3 311.3v14M472.2 311.3v14M475 311.3v14M477.1 311.3v14M479.2 311.3v14M481.8 311.3v14M483.3 311.3v14M486.4 311.3v14" fill="none" stroke="#E4452F" stroke-width="1"/>
<path d="M166.6 111h13M168.5 112.1h13M170.6 113.3h13M173.4 114.8h13M174.8 115.7h13M177 117.2h13M178.6 118.3h13M181.1 120.1h13M183.8 121.9h13M186 122.7h13M187.5 123.3h13M189.7 124.2h13M191.9 125h13M194.3 126h13M196.4 126.8h13M198.7 127.7h13M201.3 128.7h13M203.4 129.5h13M205.4 130.3h13M208.1 131.3h13M209.8 131.9h13M212.1 132.8h13M214.1 134h13M216.6 136.5h13M218.1 138.1h13M220.9 140.9h13M222.8 143.2h13M224.3 145.2h13M226.1 147.6h13M228 150.2h13M229.4 152.2h13M231.4 154.8h13M233.4 157.5h13M235.8 159.5h13M237.7 161.1h13M239.5 162.7h13M241.2 164.1h13M243.6 166.2h13M246.3 168.5h13M248.5 170.3h13M250.2 171.8h13M252.7 174h13M254.6 175.8h13M256.3 177.3h13M257.9 178.8h13M260.4 181h13M262.9 183.3h13M265.2 185.4h13M267.3 187.2h13M269.5 189.1h13M271.2 190.6h13M273.9 193h13M275.8 194.6h13M278.1 196.6h13M280.7 198.7h13M283.2 200.8h13M285.3 202.6h13M287.1 204.1h13M289.3 205.9h13M290.8 207.3h13M293.4 209h13M295.3 210.1h13M297.9 211.7h13M299.7 212.7h13M301.6 214.2h13M303.3 215.7h13M305.3 217.4h13M307 218.8h13M308.4 220h13M310.8 221.6h13M312.6 222.8h13M314.3 223.9h13M316.2 225.1h13M318.2 226.6h13M320.2 228.1h13M322.5 229.8h13M324.9 231.5h13M326.8 232.9h13M329.5 234.7h13M332.1 236.6h13M333.5 237.6h13M336.1 239.4h13M338.8 241.2h13M341.3 243h13M342.9 243.8h13M345.4 244.9h13M347.7 245.9h13M349.1 246.6h13M350.5 247.2h13M353.3 248.1h13M355.6 249h13M357.3 249.6h13M358.9 250.1h13M360.5 250.4h13M362.2 250.8h13M364.7 251.3h13M366.6 251.7h13M368.2 253h13M370.9 255.3h13M373.4 257.5h13M375 258.9h13M377.7 261.2h13M379.9 263.1h13M382.4 265.2h13M384.7 266.6h13M387.4 267.9h13M389.9 269.1h13M392.5 270.5h13M394.1 271.5h13M396.5 272.9h13M398.7 274.1h13M401.1 276.3h13M403.1 279h13M405.7 282.5h13M407.9 285.4h13M409.7 287.7h13M411.4 289.9h13M413 292h13M415.1 294.6h13M416.6 296.6h13M418.6 297.7h13M420.2 298.5h13M422.3 299.5h13M424.4 300.5h13M426.6 301.6h13M429.2 302.9h13M430.6 303.6h13M433.2 304.9h13M435.2 305.9h13M437.4 307h13M439.8 308.2h13M442.3 309.4h13M444.3 310.4h13M446.2 313.4h13M449 318.3h13M450.5 318.3h13M452.8 318.3h13M455.1 318.3h13M456.5 318.3h13M458.8 318.3h13M461.1 318.3h13M463.8 318.3h13M465.7 318.3h13M468.5 318.3h13M470.6 318.3h13M472.7 318.3h13M475.3 318.3h13M476.8 318.3h13M479.9 318.3h13" fill="none" stroke="#E4452F" stroke-width="1"/>
<path d="M428 72.5H446" stroke="#42B4D3" stroke-width="2.5"/>
<path d="M428 95.3H446" stroke="#E4452F" stroke-width="2.5"/>
<text x="457.6" y="78" font-size="16">Low</text>
<text x="457.6" y="100.5" font-size="16">High</text>
<text x="94.3" y="296.4" font-size="16.2" xml:space="preserve">HR = 1.28  (1.13  -  1.46)</text>
<text x="94.3" y="315.4" font-size="16.2" xml:space="preserve"><tspan font-style="italic">P</tspan> &lt; 0.001</text>
<text x="70" y="412.4" font-size="19.2" text-anchor="end" fill="#42B4D3">Low</text>
<text x="70" y="445.7" font-size="19.2" text-anchor="end" fill="#E4452F">High</text>
<text x="94" y="412.4" font-size="19.2" text-anchor="start" fill="#42B4D3">3034</text>
<text x="203.6" y="412.4" font-size="19.2" text-anchor="start" fill="#42B4D3">2474</text>
<text x="313.3" y="412.4" font-size="19.2" text-anchor="end" fill="#42B4D3">1260</text>
<text x="423" y="412.4" font-size="19.2" text-anchor="end" fill="#42B4D3">299</text>
<text x="94" y="445.7" font-size="19.2" text-anchor="start" fill="#E4452F">1024</text>
<text x="203.6" y="445.7" font-size="19.2" text-anchor="start" fill="#E4452F">829</text>
<text x="313.3" y="445.7" font-size="19.2" text-anchor="end" fill="#E4452F">478</text>
<text x="423" y="445.7" font-size="19.2" text-anchor="end" fill="#E4452F">138</text>
</g>
<g transform="translate(1035.3 0)">
<text x="4.6" y="31" font-size="38.5">C</text>
<text x="290.8" y="41.1" font-size="19.8" text-anchor="middle">NPAR</text>
<path d="M86.4 50.5V327.6M85.4 326.6H494.2" fill="none" stroke="#000" stroke-width="2"/>
<text x="70.4" y="63.4" font-size="16" text-anchor="end">1.0</text>
<text x="70.4" y="113.1" font-size="16" text-anchor="end">0.9</text>
<text x="70.4" y="162.7" font-size="16" text-anchor="end">0.8</text>
<text x="70.4" y="212.1" font-size="16" text-anchor="end">0.7</text>
<text x="70.4" y="262.1" font-size="16" text-anchor="end">0.6</text>
<text x="70.4" y="311.4" font-size="16" text-anchor="end">0.5</text>
<text x="97.5" y="354.8" font-size="16" text-anchor="middle">0</text>
<text x="205.5" y="354.8" font-size="16" text-anchor="middle">50</text>
<text x="313.7" y="354.8" font-size="16" text-anchor="middle">100</text>
<text x="422.6" y="354.8" font-size="16" text-anchor="middle">150</text>
<path d="M77 58H86M77 107.7H86M77 157.3H86M77 206.7H86M77 256.7H86M77 306H86M94 326V335.3M203.6 326V335.3M313.3 326V335.3M423 326V335.3" fill="none" stroke="#000" stroke-width="2"/>
<text x="290.5" y="377.7" font-size="19" text-anchor="middle">Time</text>
<text transform="translate(37.6 189.3) rotate(-90)" font-size="19.4" text-anchor="middle">Survival probability</text>
<path d="M94.7 58H97.8V58.8H100.1V59.3H103.8V59.9H106.2V60.4H108.9V60.9H111.7V61.5H115.1V62H117.1V62.4H119.7V62.9H122.3V63.5H125.2V64.1H128.7V64.7H131V65.4H134.5V66.3H137V67.1H139.8V67.9H142V68.6H144.7V69.6H148.7V70.6H151.8V71.5H155.3V72.3H157.6V72.9H159.9V73.5H162.2V74.3H165.1V75.1H168.2V76.1H171.7V76.8H172.5V77.3H174.5V78H176.7V78.6H178.4V79H179.3V79.3H180.5V79.7H181.4V80H182.5V80.5H184.7V81.2H186.5V81.8H188.4V82.4H190.4V83.2H192.7V84.1H194.5V84.8H196.2V85.5H198.1V86.2H200V87H201.7V87.7H203.6V88.3H204.7V88.9H206.6V89.4H208.1V89.9H210.2V90.2H211.1V90.5H212.2V90.7H213.1V91.1H215.1V91.6H217.4V92.1H219.2V92.5H220.6V93H222.7V93.6H224.8V94.4H226.5V94.9H227.7V95.4H229V96H230.5V96.6H231.8V97.1H233.3V97.8H235.1V98.6H237.4V99.2H238.3V99.8H240V100.4H240.8V100.8H241.8V101.6H243.9V102.6H245.7V103.6H247.9V104.5H249.4V105.1H250.3V105.7H251.7V106.5H253.4V107.5H255.7V108.6H258.1V109.4H259.7V109.9H261.1V110.4H262.1V110.9H263.9V111.4H265V111.8H266.1V112.1H266.9V112.4H267.7V112.9H269.6V113.5H270.6V114.1H273V114.7H273.9V115.3H276.1V115.9H277.1V116.3H277.9V116.8H279.9V117.5H281.1V118.1H283V119H284.1V119.7H285V120.8H287.1V122.3H289V123.8H291.2V125.2H293.1V126.2H294.1V127.1H295.9V128.4H297.8V129.6H299.3V130.9H301.6V132.1H302.8V133.4H305.2V134.8H307.1V135.8H308V136.4H308.8V137.3H310.6V138.7H312.7V139.7H313.7V140.5H315V141.6H316.9V142.7H318V143.8H320.2V145.1H321.7V145.9H322.6V146.7H324V147.6H325.7V148.6H327.2V149.6H329.1V150.5H330.2V151.4H332.2V152.4H333.6V153.4H335.5V154.5H337.3V155.5H338.7V156.3H340.1V157.4H342.2V158.8H344.5V160.2H346.6V161.4H348.3V162.3H349.5V163H350.4V164H352.8V165.3H354.7V166.6H356.8V167.8H358.2V168.9H359.9V170.4H362.3V172H364.4V173.5H366.2V174.7H367.5V175.8H369V177.2H371.2V178.6H372.6V179.9H374.5V181.3H376.3V182.9H378.5V184.6H380.6V185.9H381.8V186.6H382.6V187.2H383.9V188.1H385.3V189.2H387.1V190.5H389.2V191.9H391.4V192.9H392.3V193.9H394.4V195.3H396.5V196.7H398.7V198.1H400.4V199.2H401.6V200.4H403.8V201.9H405.9V203.4H407.8V204.9H410.1V206.2H411.4V207H412.4V207.9H414V209.2H416.1V210.1H417.2V211H419.2V212.2H421.5V213.2H422.7V214.1H424.5V215.1H426.4V216.1H427.9V216.8H429V217.5H430.2V218.4H432.2V219.3H434.3V220.2H435.8V220.7H436.8V221.4H438.9V222.3H440.9V223.1H442.1V223.7H443.8V224.6H446V225.6H448.3V226.5H449.9V227.2H451.5V227.9H453.2V228.6H454.3V229.1H455.4V229.6H456.5V230.2H458.4V231H459.8V231.7H461.5V232.4H462.9V233.1H464.6V234.1H465.6V235.7H466.5V238.4H468.9V241.5H470.3V242.9H471.2V244.4H473.1V246.6H475.1V248.4H476.2V250.9H477.9V254.9H479.3V257.8H480.9H481.7H482.6H485H485.9" fill="none" stroke="#42B4D3" stroke-width="2.4"/>
<path d="M169.7 69.2v14M171.8 69.8v14M174 70.5v14M175.7 71.1v14M178.2 71.9v14M180.2 72.5v14M183 73.4v14M185.4 74.2v14M188 75v14M190.7 76v14M192.5 76.7v14M193.9 77.3v14M195.6 78v14M197.3 78.7v14M198.8 79.3v14M200.3 79.9v14M202.4 80.7v14M205.1 81.8v14M207.1 82.4v14M209.8 83.1v14M212.5 83.8v14M214 84.1v14M216.2 84.7v14M218.2 85.2v14M219.7 85.6v14M222.5 86.2v14M224.2 86.9v14M226.4 87.8v14M228.7 88.7v14M231.5 89.8v14M233.8 90.8v14M235.8 91.5v14M237.8 92.4v14M239.4 93v14M242.2 94.4v14M245 95.8v14M246.7 96.7v14M248.1 97.4v14M249.9 98.3v14M251.8 99.3v14M254.4 100.6v14M257.1 101.8v14M259.7 102.8v14M261.1 103.3v14M263.6 104.2v14M266 105.1v14M268.3 105.9v14M271.1 106.9v14M272.6 107.5v14M274.2 108.1v14M276.7 109.1v14M279.4 110.1v14M281.7 111.1v14M283.5 112.2v14M285.8 113.8v14M288.2 115.6v14M289.8 116.8v14M291.6 118v14M293.4 119.2v14M295 120.3v14M297 121.8v14M298.7 122.9v14M300.4 124.1v14M302 125.2v14M304.4 126.8v14M305.8 127.8v14M308.2 129.4v14M309.8 130.6v14M311.3 131.6v14M314 133.5v14M315.7 134.7v14M318.4 136.5v14M321 138.3v14M323.7 140.1v14M325.3 141v14M327.3 142.3v14M328.8 143.2v14M331.5 144.8v14M334.1 146.3v14M336.4 147.7v14M338.4 148.9v14M340.3 150.1v14M342.9 151.7v14M344.9 153v14M347.2 154.4v14M348.8 155.4v14M350.5 156.5v14M352 157.4v14M354.4 158.9v14M356.6 160.3v14M358.2 161.5v14M360.8 163.4v14M362.6 164.7v14M364.5 166.1v14M366.2 167.4v14M367.9 168.7v14M370.5 170.8v14M372.4 172.2v14M374 173.5v14M376.1 175.1v14M377.9 176.5v14M380.6 178.6v14M382.2 179.7v14M384.9 181.5v14M386.4 182.5v14M389.1 184.3v14M391.4 185.8v14M393.1 187v14M395.2 188.3v14M397 189.5v14M398.7 190.7v14M400.4 191.9v14M402.3 193.3v14M405.1 195.3v14M407.9 197.3v14M410.6 199.3v14M412.1 200.4v14M413.9 201.7v14M416.6 203.3v14M418.1 204.1v14M420.5 205.5v14M422.3 206.5v14M425.1 208.1v14M426.5 208.9v14M429 210.3v14M430.9 211.4v14M432.5 212.1v14M433.9 212.8v14M436.5 213.9v14M438.6 214.9v14M440.3 215.6v14M442.3 216.5v14M445 217.8v14M446.7 218.5v14M448.9 219.5v14M450.5 220.2v14M452.1 221v14M454.6 222.1v14M457 223.2v14M458.7 223.9v14M460.2 224.6v14M461.7 225.3v14M463.9 226.3v14M466 229.2v14M467.8 232.1v14M469.5 234.8v14M471.8 237.3v14M474.2 240v14M476.7 243.7v14M478.9 249.5v14M480.6 250.8v14M482.1 250.8v14M484.5 250.8v14M485.9 250.8v14" fill="none" stroke="#42B4D3" stroke-width="1"/>
<path d="M163.2 76.2h13M165.3 76.8h13M167.5 77.5h13M169.2 78.1h13M171.7 78.9h13M173.7 79.5h13M176.5 80.4h13M178.9 81.2h13M181.5 82h13M184.2 83h13M186 83.7h13M187.4 84.3h13M189.1 85h13M190.8 85.7h13M192.3 86.3h13M193.8 86.9h13M195.9 87.7h13M198.6 88.8h13M200.6 89.4h13M203.3 90.1h13M206 90.8h13M207.5 91.1h13M209.7 91.7h13M211.7 92.2h13M213.2 92.6h13M216 93.2h13M217.7 93.9h13M219.9 94.8h13M222.2 95.7h13M225 96.8h13M227.3 97.8h13M229.3 98.5h13M231.3 99.4h13M232.9 100h13M235.7 101.4h13M238.5 102.8h13M240.2 103.7h13M241.6 104.4h13M243.4 105.3h13M245.3 106.3h13M247.9 107.6h13M250.6 108.8h13M253.2 109.8h13M254.6 110.3h13M257.1 111.2h13M259.5 112.1h13M261.8 112.9h13M264.6 113.9h13M266.1 114.5h13M267.7 115.1h13M270.2 116.1h13M272.9 117.1h13M275.2 118.1h13M277 119.2h13M279.3 120.8h13M281.7 122.6h13M283.3 123.8h13M285.1 125h13M286.9 126.2h13M288.5 127.3h13M290.5 128.8h13M292.2 129.9h13M293.9 131.1h13M295.5 132.2h13M297.9 133.8h13M299.3 134.8h13M301.7 136.4h13M303.3 137.6h13M304.8 138.6h13M307.5 140.5h13M309.2 141.7h13M311.9 143.5h13M314.5 145.3h13M317.2 147.1h13M318.8 148h13M320.8 149.3h13M322.3 150.2h13M325 151.8h13M327.6 153.3h13M329.9 154.7h13M331.9 155.9h13M333.8 157.1h13M336.4 158.7h13M338.4 160h13M340.7 161.4h13M342.3 162.4h13M344 163.5h13M345.5 164.4h13M347.9 165.9h13M350.1 167.3h13M351.7 168.5h13M354.3 170.4h13M356.1 171.7h13M358 173.1h13M359.7 174.4h13M361.4 175.7h13M364 177.8h13M365.9 179.2h13M367.5 180.5h13M369.6 182.1h13M371.4 183.5h13M374.1 185.6h13M375.7 186.7h13M378.4 188.5h13M379.9 189.5h13M382.6 191.3h13M384.9 192.8h13M386.6 194h13M388.7 195.3h13M390.5 196.5h13M392.2 197.7h13M393.9 198.9h13M395.8 200.3h13M398.6 202.3h13M401.4 204.3h13M404.1 206.3h13M405.6 207.4h13M407.4 208.7h13M410.1 210.3h13M411.6 211.1h13M414 212.5h13M415.8 213.5h13M418.6 215.1h13M420 215.9h13M422.5 217.3h13M424.4 218.4h13M426 219.1h13M427.4 219.8h13M430 220.9h13M432.1 221.9h13M433.8 222.6h13M435.8 223.5h13M438.5 224.8h13M440.2 225.5h13M442.4 226.5h13M444 227.2h13M445.6 228h13M448.1 229.1h13M450.5 230.2h13M452.2 230.9h13M453.7 231.6h13M455.2 232.3h13M457.4 233.3h13M459.5 236.2h13M461.3 239.1h13M463 241.8h13M465.3 244.3h13M467.7 247h13M470.2 250.7h13M472.4 256.5h13M474.1 257.8h13M475.6 257.8h13M478 257.8h13M479.4 257.8h13" fill="none" stroke="#42B4D3" stroke-width="1"/>
<path d="M94.7 58H98V59H99.6V60.7H103.2V62.5H105.5V64.4H109.1V67.6H112.8V70H115.5V70.9H117V71.9H120.8V74.6H123.5V77.4H127.2V79.8H129.4V80.8H131.3V82.1H134.9V83.5H137.3V84.6H139.2V85.7H141.7V87.2H144.6V88.4H146.2V89.8H149V91.6H151.6V93.4H154.4V95.1H156.2V97.1H159.4V99.6H163V101.8H166.7V103.4H169V104.8H172.2V106H173.6V107.1H175.6V108H176.5V109H178.7V110.5H181.1V111.7H182.7V112.7H184.3V113.8H185.9V114.8H187.6V115.6H188.4V116.6H190.8V117.7H191.9V118.4H193V119H194V119.6H195.2V120.6H197.3V121.5H198.1V122H199.1V122.9H201V123.8H202.1V124.4H203V125.2H204.7V126.2H206.4V127.3H208.1V128.5H210V129.5H211V130.7H213.1V132.1H215.1V133.1H216V133.7H217V134.6H218.6V135.8H220.2V136.7H221.4V137.5H222.4V138.4H223.8V139.5H224.9V140.6H226.6V142.3H228.8V143.7H229.8V144.8H231.5V146.4H233.5V147.7H234.6V149.1H236.7V150.9H239V152.5H240.4V153.8H241.9V155.3H244.1V156.9H245.7V158.2H247.1V159.8H249.4V161.7H251.5V163.1H252.8V164.2H254V165.2H255.3V166.4H256.8V168.1H259.2V169.9H261.3V171.7H263.6V173.5H265.7V175.3H267.8V176.6H268.7V177.6H270.3V179.3H272.7V181.1H275V182.3H276.2V183.3H277.6V184.5H279.4V185.6H280.8V186.7H282.5V187.6H283.4V188.5H284.9V189.6H286.5V190.5H287.3V191.2H288.3V192.4H290.7V193.8H292.7V195.1H295V196.4H296.9V197.7H299V199H301.2V200.4H303.4V201.4H304.2V202.2H306.1V203.2H307.3V204.4H309.2V205.6H310.4V206.6H312.1V208.1H314.4V209.7H316.2V210.8H317.4V211.9H319V213H320.5V214.5H322.8V215.8H324.1V216.5H325.3V217.5H327.2V218.3H328.2V219.1H329.9V220.3H332.3V221.5H333.9V222.4H335.1V223.2H336.7V224.2H338.3V225H339.3V225.6H340.3V226.1H341.4V226.7H342.6V227.4H344.1V228H345.3V228.7H346.5V229.2H347.5V229.9H349.1V230.9H351.3V231.8H353.1V232.7H354.8V233.6H356.6V234.6H357.7V235.9H359.7V237.2H361.2V238.5H362.9V239.9H364.7V241.3H366.2V242.4H367.5V243.4H368.7V244.3H369.9V245.5H371.5V246.7H372.9V247.9H374.6V248.9H375.4V249.4H376.8V250.3H379V251.1H380.2V251.9H381.9V252.7H383.4V253.4H384.7V254.3H387.1V255.2H388.4V256H390.4V256.8H391.4V257.3H392.4V258.1H394.5V259H396V259.6H396.9V260.2H398.4V261H399.9V262H401.8V262.8H402.8V263.4H404V264.3H406.3V265.8H408.3V267.1H409.3V268.1H410.7V269.2H412.1V270.6H413.9V272.6H415.7V275.1H417.9V277.8H420V280.2H421.6V282.5H423.6V284.1H425.6V285.4H427.6V286.5H429.2V287.7H431.2V289.1H433.2V290.4H435.4V291.5H436.4V292.6H438.6V293.6H439.4V294.4H441.5V295.6H443.2V296.6H444.8V297.7H447.1V299H448.8V299.9H450.3V301H452.4V302.2H454.6V303.4H456.3V304.5H457.7V305.5H459.3V306.7H460.8V307.9H462.8V309.1H464V310.1H465.4V311.2H467.1V312.4H468.5V313.9H469.9V315.9H471.9V318.3H474.1H475.7H477.2H478.3H479.6H480.6H482.3H484.1H485H485.9" fill="none" stroke="#E4452F" stroke-width="2.4"/>
<path d="M172.2 98.8v14M174.1 99.9v14M176.6 101.6v14M179.2 103.2v14M181.9 105v14M183.6 106v14M185.6 107.3v14M188.3 109v14M189.7 109.9v14M191.2 110.8v14M193.4 112.1v14M195.5 113.3v14M198.2 114.9v14M200.6 116.4v14M202.8 117.7v14M205.6 119.4v14M207.7 120.8v14M209.8 122.3v14M212.2 124v14M214.2 125.3v14M216.1 126.7v14M218.3 128.2v14M220.2 129.5v14M222.9 131.5v14M225.3 133.5v14M227.4 135.3v14M228.9 136.6v14M230.8 138.2v14M232.8 139.9v14M235 141.8v14M237.2 143.6v14M239.8 145.9v14M242.6 148.2v14M244.7 150v14M246.7 151.7v14M249 153.6v14M251.7 156v14M253.6 157.6v14M255.8 159.4v14M258.3 161.5v14M260 162.9v14M261.8 164.4v14M264.6 166.7v14M267.1 168.9v14M269.2 170.6v14M270.8 171.9v14M273.4 174v14M275.8 175.7v14M278.4 177.6v14M281.2 179.6v14M283.8 181.5v14M285.8 182.9v14M287.4 184.1v14M289.2 185.4v14M291.3 186.7v14M293.4 188v14M295.1 189.1v14M296.7 190.1v14M299 191.6v14M301.3 193v14M303.2 194.2v14M306 195.9v14M308.3 197.6v14M309.7 198.7v14M311.7 200.2v14M314.2 202.1v14M316 203.5v14M318.4 205.3v14M319.8 206.3v14M321.6 207.7v14M324.2 209.4v14M326.4 210.7v14M328.8 212.1v14M330.4 213.1v14M332.5 214.4v14M334.7 215.7v14M336.5 216.7v14M338.8 218.1v14M340.9 219.3v14M343.7 220.7v14M345.9 221.8v14M347.9 222.8v14M349.5 223.6v14M351.1 224.4v14M353.6 225.7v14M355.1 226.5v14M356.6 227.4v14M358.3 228.8v14M360.4 230.5v14M363 232.5v14M365.2 234.3v14M367.8 236.4v14M369.2 237.6v14M370.7 238.7v14M373.1 240.7v14M375 242v14M377.4 243.2v14M379.3 244.1v14M380.9 245v14M382.7 245.8v14M384.2 246.6v14M386.9 247.9v14M389.1 249.1v14M391 250v14M393 251v14M395 252v14M396.4 252.7v14M399.1 254.2v14M401.3 255.4v14M404.1 256.9v14M406.1 258v14M408.3 259.9v14M410.1 261.4v14M411.5 262.6v14M414.3 265.2v14M416.8 268.5v14M418.7 270.9v14M421.3 274.3v14M423.9 276.8v14M425.7 278v14M428 279.5v14M430.7 281.3v14M432.8 282.7v14M435.5 284.4v14M437.3 285.6v14M439.2 286.9v14M441.6 288.3v14M443.3 289.4v14M445.2 290.4v14M447.8 292v14M449.9 293.3v14M452.4 294.8v14M454.1 295.8v14M455.8 296.8v14M457.7 298.1v14M459.3 299.4v14M462.1 301.4v14M463.9 302.7v14M466.1 304.3v14M467.6 305.5v14M469.8 307.9v14M471.7 310.2v14M473.7 311.3v14M475.2 311.3v14M476.8 311.3v14M479.3 311.3v14M481.2 311.3v14M482.9 311.3v14M484.6 311.3v14M485.9 311.3v14" fill="none" stroke="#E4452F" stroke-width="1"/>
<path d="M165.7 105.8h13M167.6 106.9h13M170.1 108.6h13M172.7 110.2h13M175.4 112h13M177.1 113h13M179.1 114.3h13M181.8 116h13M183.2 116.9h13M184.7 117.8h13M186.9 119.1h13M189 120.3h13M191.7 121.9h13M194.1 123.4h13M196.3 124.7h13M199.1 126.4h13M201.2 127.8h13M203.3 129.3h13M205.7 131h13M207.7 132.3h13M209.6 133.7h13M211.8 135.2h13M213.7 136.5h13M216.4 138.5h13M218.8 140.5h13M220.9 142.3h13M222.4 143.6h13M224.3 145.2h13M226.3 146.9h13M228.5 148.8h13M230.7 150.6h13M233.3 152.9h13M236.1 155.2h13M238.2 157h13M240.2 158.7h13M242.5 160.6h13M245.2 163h13M247.1 164.6h13M249.3 166.4h13M251.8 168.5h13M253.5 169.9h13M255.3 171.4h13M258.1 173.7h13M260.6 175.9h13M262.7 177.6h13M264.3 178.9h13M266.9 181h13M269.3 182.7h13M271.9 184.6h13M274.7 186.6h13M277.3 188.5h13M279.3 189.9h13M280.9 191.1h13M282.7 192.4h13M284.8 193.7h13M286.9 195h13M288.6 196.1h13M290.2 197.1h13M292.5 198.6h13M294.8 200h13M296.7 201.2h13M299.5 202.9h13M301.8 204.6h13M303.2 205.7h13M305.2 207.2h13M307.7 209.1h13M309.5 210.5h13M311.9 212.3h13M313.3 213.3h13M315.1 214.7h13M317.7 216.4h13M319.9 217.7h13M322.3 219.1h13M323.9 220.1h13M326 221.4h13M328.2 222.7h13M330 223.7h13M332.3 225.1h13M334.4 226.3h13M337.2 227.7h13M339.4 228.8h13M341.4 229.8h13M343 230.6h13M344.6 231.4h13M347.1 232.7h13M348.6 233.5h13M350.1 234.4h13M351.8 235.8h13M353.9 237.5h13M356.5 239.5h13M358.7 241.3h13M361.3 243.4h13M362.7 244.6h13M364.2 245.7h13M366.6 247.7h13M368.5 249h13M370.9 250.2h13M372.8 251.1h13M374.4 252h13M376.2 252.8h13M377.7 253.6h13M380.4 254.9h13M382.6 256.1h13M384.5 257h13M386.5 258h13M388.5 259h13M389.9 259.7h13M392.6 261.2h13M394.8 262.4h13M397.6 263.9h13M399.6 265h13M401.8 266.9h13M403.6 268.4h13M405 269.6h13M407.8 272.2h13M410.3 275.5h13M412.2 277.9h13M414.8 281.3h13M417.4 283.8h13M419.2 285h13M421.5 286.5h13M424.2 288.3h13M426.3 289.7h13M429 291.4h13M430.8 292.6h13M432.7 293.9h13M435.1 295.3h13M436.8 296.4h13M438.7 297.4h13M441.3 299h13M443.4 300.3h13M445.9 301.8h13M447.6 302.8h13M449.3 303.8h13M451.2 305.1h13M452.8 306.4h13M455.6 308.4h13M457.4 309.7h13M459.6 311.3h13M461.1 312.5h13M463.3 314.9h13M465.2 317.2h13M467.2 318.3h13M468.7 318.3h13M470.3 318.3h13M472.8 318.3h13M474.7 318.3h13M476.4 318.3h13M478.1 318.3h13M479.4 318.3h13" fill="none" stroke="#E4452F" stroke-width="1"/>
<path d="M428 72.5H446" stroke="#42B4D3" stroke-width="2.5"/>
<path d="M428 95.3H446" stroke="#E4452F" stroke-width="2.5"/>
<text x="457.6" y="78" font-size="16">Low</text>
<text x="457.6" y="100.5" font-size="16">High</text>
<text x="94.3" y="296.4" font-size="16.2" xml:space="preserve">HR = 1.81  (1.60  -  2.05)</text>
<text x="94.3" y="315.4" font-size="16.2" xml:space="preserve"><tspan font-style="italic">P</tspan> &lt; 0.001</text>
<text x="70" y="412.4" font-size="19.2" text-anchor="end" fill="#42B4D3">Low</text>
<text x="70" y="445.7" font-size="19.2" text-anchor="end" fill="#E4452F">High</text>
<text x="94" y="412.4" font-size="19.2" text-anchor="start" fill="#42B4D3">2027</text>
<text x="203.6" y="412.4" font-size="19.2" text-anchor="start" fill="#42B4D3">1693</text>
<text x="313.3" y="412.4" font-size="19.2" text-anchor="end" fill="#42B4D3">913</text>
<text x="423" y="412.4" font-size="19.2" text-anchor="end" fill="#42B4D3">228</text>
<text x="94" y="445.7" font-size="19.2" text-anchor="start" fill="#E4452F">2031</text>
<text x="203.6" y="445.7" font-size="19.2" text-anchor="start" fill="#E4452F">1610</text>
<text x="313.3" y="445.7" font-size="19.2" text-anchor="end" fill="#E4452F">825</text>
<text x="423" y="445.7" font-size="19.2" text-anchor="end" fill="#E4452F">209</text>
</g>
<g transform="translate(0 463)">
<text x="3.8" y="31" font-size="38.5">D</text>
<text x="290.8" y="41.1" font-size="19.8" text-anchor="middle">SII</text>
<path d="M86.4 50.5V327.6M85.4 326.6H494.2" fill="none" stroke="#000" stroke-width="2"/>
<text x="70.4" y="63.4" font-size="16" text-anchor="end">1.0</text>
<text x="70.4" y="117.1" font-size="16" text-anchor="end">0.9</text>
<text x="70.4" y="170.7" font-size="16" text-anchor="end">0.8</text>
<text x="70.4" y="224.4" font-size="16" text-anchor="end">0.7</text>
<text x="70.4" y="278.1" font-size="16" text-anchor="end">0.6</text>
<text x="70.4" y="331.4" font-size="16" text-anchor="end">0.5</text>
<text x="97.5" y="354.8" font-size="16" text-anchor="middle">0</text>
<text x="205.5" y="354.8" font-size="16" text-anchor="middle">50</text>
<text x="313.7" y="354.8" font-size="16" text-anchor="middle">100</text>
<text x="422.6" y="354.8" font-size="16" text-anchor="middle">150</text>
<path d="M77 58H86M77 111.7H86M77 165.3H86M77 219H86M77 272.7H86M77 326H86M94 326V335.3M203.6 326V335.3M313.3 326V335.3M423 326V335.3" fill="none" stroke="#000" stroke-width="2"/>
<text x="290.5" y="377.7" font-size="19" text-anchor="middle">Time</text>
<text transform="translate(37.6 189.3) rotate(-90)" font-size="19.4" text-anchor="middle">Survival probability</text>
<path d="M94.3 58H96.4V58.4H98V58.8H101.1V59.2H103.5V59.6H105.4V60.1H108.6V60.6H110.4V61H112.6V61.8H116.1V62.6H118V63.2H120.6V64.4H124.2V65.8H127.7V66.9H129.6V67.9H132V69.2H135.3V70.5H137.7V71.7H141.6V72.7H143.6V73.7H147.5V75H150.3V75.9H152.3V76.9H155V77.9H156.8V79.3H160.1V80.7H162.2V82.3H166V84H168.9V85.3H171.3V86.2H172.5V86.9H174.3V87.6H175.4V88.4H177.6V89.1H178.6V89.7H180.3V90.5H181.9V91.2H183.2V92H185.2V92.8H186.6V93.5H188.5V94.4H190.2V95.1H191.5V95.8H192.9V96.4H193.8V96.9H194.9V97.7H197.1V98.5H198.4V99.3H200.3V100H201.2V100.7H202.9V101.5H204.3V102.2H205.9V102.9H207.2V103.5H208.1V104H209.4V104.7H210.5V105.2H211.5V105.9H213.5V106.8H214.7V107.4H216.2V108.4H218.4V109.5H220.5V110.5H222.7V111.6H224.9V112.4H225.9V113H227.1V113.5H228V114.2H229.9V115.1H231.7V115.9H233.1V116.6H234.5V117.5H236.4V118.4H238.3V119.2H239.5V120H241.7V120.7H243V121.4H244.8V122.1H245.9V122.5H246.9V123.2H249.2V124.1H251.2V125H253.1V125.6H254V126H254.8V126.4H255.9V126.9H257V127.6H258.3V128.5H259.7V129.3H260.6V130H261.9V131H263.7V132H264.8V133.1H266.9V134.3H268.6V135.5H270.6V136.6H271.8V137.5H273.3V138.7H275.2V139.8H276.5V140.6H277.3V141.7H279.5V143.2H281.5V144.3H282.8V145.1H283.6V146.2H285.8V147.6H287.6V148.6H288.4V149.3H289.6V150.1H290.6V151.4H292.7V152.7H293.8V154.1H296.1V155.9H298.1V157.2H299V158.4H300.9V159.8H302.4V161.2H304.3V162.9H306.5V164.3H307.7V165H308.7V166.1H311V167.3H312.5V168.6H314.7V170H316.7V171.3H318.6V172.6H320.8V173.9H322.6V175H324.1V175.9H325V176.8H326.9V178H328.4V179.1H330V180.4H332.3V181.5H333.3V182.6H335.3V183.6H336.2V184.5H338.1V185.9H340.2V187H341.4V187.9H343.1V189.1H345.4V190.4H347.3V191.4H348.9V192.3H350.1V193H351V193.7H352.4V194.5H353.9V195.3H355V196H356.3V196.8H357.3V198.1H359.2V199.7H361.1V201H362.3V202.1H363.5V203.3H365.1V204.7H366.6V206.3H368.9V207.9H370.3V209.1H371.5V210.6H373.8V211.9H374.8V213.1H376.5V214.4H377.8V215.9H379.9V217.5H381.6V218.9H383.6V220H384.7V221.1H386.6V222.3H388.3V223.5H389.8V224.8H391.9V226.2H394V227.3H395V228.1H396.2V229H397.6V229.9H398.8V230.8H399.7V231.7H400.9V232.6H402V233.9H403.9V235.4H405.5V236.4H406.4V237.4H407.8V238.6H409.3V239.8H410.7V240.8H411.8V241.7H412.7V242.4H413.5V243.7H415.9V245H417.9V245.8H418.8V246.6H420.8V247.7H423.1V248.8H424.8V249.6H425.8V250.2H427.4V251.1H428.9V251.8H430V252.5H431.7V253.2H432.5V254.3H434.7V255.6H436.6V256.8H438.4V258.2H440.7V259.6H442.5V260.6H443.7V261.4H444.9V262.1H445.9V262.8H446.8V263.6H448.8V264.8H451V265.8H452.2V266.4H453.3V267.3H455.1V268.4H457.3V269.6H459.6V269.7H460.7V269.8H462.7V269.9H464.8V270H466.8V281.5H468.1V282.7H469.2V284.3H471.4V286H472.7V287.4H474.1V292.6H475.7V297.1H477.1H479.3H480.5H481.3H483H484.8H486.6" fill="none" stroke="#42B4D3" stroke-width="2.4"/>
<path d="M170 78.4v14M172.4 79.5v14M175.1 80.8v14M177.8 82.1v14M179.9 83.1v14M182 84.1v14M183.6 84.8v14M185.4 85.7v14M187.6 86.7v14M189.1 87.4v14M191.5 88.6v14M193.1 89.4v14M195.1 90.4v14M197.9 91.8v14M199.4 92.5v14M200.9 93.3v14M202.9 94.3v14M204.6 95.1v14M207 96.3v14M208.4 97v14M211 98.3v14M213.6 99.6v14M216.1 100.9v14M218.1 101.9v14M219.9 102.8v14M222.2 104v14M224.3 105v14M226.3 106v14M228.2 107v14M230.2 108v14M232.5 109.1v14M235.1 110.4v14M237.7 111.7v14M239.4 112.5v14M241.2 113.3v14M243.2 114.2v14M245.4 115.2v14M247.3 116v14M248.9 116.7v14M250.5 117.4v14M252.3 118.2v14M254.4 119.1v14M257.1 120.5v14M259.8 122.3v14M262.4 124v14M265.2 125.8v14M267.9 127.6v14M270.2 129.1v14M272.7 130.8v14M274.2 131.9v14M276.6 133.6v14M278.8 135.2v14M280.6 136.5v14M282.8 138.1v14M285.6 140v14M287.6 141.5v14M289.9 143.2v14M291.8 144.7v14M293.6 146.3v14M296.3 148.5v14M297.7 149.7v14M299.4 151.1v14M301.7 153.1v14M303.8 154.8v14M305.3 156.1v14M307.6 157.8v14M309.5 159.1v14M311.7 160.5v14M313.7 161.8v14M315.9 163.3v14M318 164.7v14M320 166v14M321.6 167v14M323.2 168.1v14M325.9 170v14M328 171.5v14M329.6 172.5v14M332.2 174.3v14M333.9 175.5v14M335.5 176.6v14M337.6 178.1v14M339.4 179.3v14M341.5 180.6v14M343.6 181.9v14M345.4 183v14M347.6 184.3v14M349.1 185.2v14M351.2 186.5v14M353.5 187.9v14M355 188.8v14M356.9 190.2v14M358.4 191.5v14M360.5 193.2v14M363.1 195.5v14M365.2 197.4v14M367.6 199.5v14M370.1 201.6v14M371.7 203v14M374.4 205.4v14M376.9 207.4v14M378.4 208.7v14M381 210.9v14M382.9 212.4v14M384.5 213.5v14M387.3 215.5v14M389.5 217v14M392 218.7v14M393.6 219.9v14M396 221.6v14M397.5 222.7v14M399.3 224.1v14M401.2 225.7v14M402.6 226.9v14M404.8 228.7v14M406.5 230.2v14M408.3 231.7v14M410.7 233.7v14M412.7 235.4v14M415.4 237.4v14M417.6 238.6v14M420.3 240v14M422.5 241.2v14M425.1 242.6v14M427.8 244v14M429.4 244.9v14M431.8 246.3v14M433.7 247.5v14M436.2 249.2v14M438.5 250.8v14M441.1 252.5v14M442.7 253.5v14M444.6 254.8v14M447 256.4v14M449.7 257.9v14M452.2 259.2v14M453.6 260.1v14M455.9 261.3v14M457.4 262.2v14M459.6 262.7v14M462.1 262.8v14M463.7 262.9v14M466.4 268.5v14M468.7 276v14M470.5 277.8v14M472.1 279.4v14M474.2 283.1v14M476.7 290.1v14M478.9 290.1v14M480.5 290.1v14M481.9 290.1v14M483.5 290.1v14M486.6 290.1v14" fill="none" stroke="#42B4D3" stroke-width="1"/>
<path d="M163.5 85.4h13M165.9 86.5h13M168.6 87.8h13M171.3 89.1h13M173.4 90.1h13M175.5 91.1h13M177.1 91.8h13M178.9 92.7h13M181.1 93.7h13M182.6 94.4h13M185 95.6h13M186.6 96.4h13M188.6 97.4h13M191.4 98.8h13M192.9 99.5h13M194.4 100.3h13M196.4 101.3h13M198.1 102.1h13M200.5 103.3h13M201.9 104h13M204.5 105.3h13M207.1 106.6h13M209.6 107.9h13M211.6 108.9h13M213.4 109.8h13M215.7 111h13M217.8 112h13M219.8 113h13M221.7 114h13M223.7 115h13M226 116.1h13M228.6 117.4h13M231.2 118.7h13M232.9 119.5h13M234.7 120.3h13M236.7 121.2h13M238.9 122.2h13M240.8 123h13M242.4 123.7h13M244 124.4h13M245.8 125.2h13M247.9 126.1h13M250.6 127.5h13M253.3 129.3h13M255.9 131h13M258.7 132.8h13M261.4 134.6h13M263.7 136.1h13M266.2 137.8h13M267.7 138.9h13M270.1 140.6h13M272.3 142.2h13M274.1 143.5h13M276.3 145.1h13M279.1 147h13M281.1 148.5h13M283.4 150.2h13M285.3 151.7h13M287.1 153.3h13M289.8 155.5h13M291.2 156.7h13M292.9 158.1h13M295.2 160.1h13M297.3 161.8h13M298.8 163.1h13M301.1 164.8h13M303 166.1h13M305.2 167.5h13M307.2 168.8h13M309.4 170.3h13M311.5 171.7h13M313.5 173h13M315.1 174h13M316.7 175.1h13M319.4 177h13M321.5 178.5h13M323.1 179.5h13M325.7 181.3h13M327.4 182.5h13M329 183.6h13M331.1 185.1h13M332.9 186.3h13M335 187.6h13M337.1 188.9h13M338.9 190h13M341.1 191.3h13M342.6 192.2h13M344.7 193.5h13M347 194.9h13M348.5 195.8h13M350.4 197.2h13M351.9 198.5h13M354 200.2h13M356.6 202.5h13M358.7 204.4h13M361.1 206.5h13M363.6 208.6h13M365.2 210h13M367.9 212.4h13M370.4 214.4h13M371.9 215.7h13M374.5 217.9h13M376.4 219.4h13M378 220.5h13M380.8 222.5h13M383 224h13M385.5 225.7h13M387.1 226.9h13M389.5 228.6h13M391 229.7h13M392.8 231.1h13M394.7 232.7h13M396.1 233.9h13M398.3 235.7h13M400 237.2h13M401.8 238.7h13M404.2 240.7h13M406.2 242.4h13M408.9 244.4h13M411.1 245.6h13M413.8 247h13M416 248.2h13M418.6 249.6h13M421.3 251h13M422.9 251.9h13M425.3 253.3h13M427.2 254.5h13M429.7 256.2h13M432 257.8h13M434.6 259.5h13M436.2 260.5h13M438.1 261.8h13M440.5 263.4h13M443.2 264.9h13M445.7 266.2h13M447.1 267.1h13M449.4 268.3h13M450.9 269.2h13M453.1 269.7h13M455.6 269.8h13M457.2 269.9h13M459.9 275.5h13M462.2 283h13M464 284.8h13M465.6 286.4h13M467.7 290.1h13M470.2 297.1h13M472.4 297.1h13M474 297.1h13M475.4 297.1h13M477 297.1h13M480.1 297.1h13" fill="none" stroke="#42B4D3" stroke-width="1"/>
<path d="M94.3 58H96.3V58.3H99.1V59.6H101.4V61.2H104.6V62.8H107V64.2H108.9V66.9H112.6V69.8H115.4V71H118.7V72.8H122.2V75.8H126.1V78H127.6V79.4H129.9V80.5H131.8V81.7H134.6V83.4H138.3V85.2H141.8V86.3H143.3V87.2H145.3V88.6H148.9V90.6H152.1V92.4H154.5V93.9H157.2V95.3H159.1V96.9H162.7V98.7H165.2V100.4H168.9V102.1H171.9V103.4H173.6V104.1H174.9V104.6H176.1V105.4H178.3V106.4H180.1V107H180.9V107.4H182V108H183.4V108.7H184.9V109.4H186.6V110.2H188.1V110.8H189.4V111.3H190.2V112H192V112.7H193.3V113.2H194.1V113.8H195.7V114.8H198.1V115.6H198.9V116.1H200V116.8H201.8V117.6H203.1V118.2H204.3V118.9H205.9V119.6H207.1V120.5H208.8V121.5H210.5V122.7H212.8V124.1H215.2V125.1H216.1V125.8H217.7V127H219.8V128.2H222V129.5H224V131.3H225.8V133.1H227.6V134.7H229V136.1H230.3V137.7H232.4V139.8H234.5V142.1H236.8V144.2H238.7V145.8H240V147.2H242V148.8H244V150.3H245.6V151.6H247.5V152.9H248.8V154.1H250.5V155.3H252V156.3H252.8V157.2H254.2V158.2H255.5V159.7H257.9V162.1H259.5V163.9H260.8V165.4H262V166.8H263.2V168.4H264.6V169.7H265.6V170.3H266.4V171.1H268.6V172.1H270.1V173H271.6V173.9H273.3V174.7H274.6V175.4H275.7V175.9H276.6V176.5H277.9V177.2H279.2V178.1H281.1V179.2H282.8V180.2H285.1V181.2H286.5V182.2H288.7V183.3H290.5V184H291.4V184.6H292.5V185.3H294.2V186.4H296.6V187.4H298V188.6H300V190.1H301.5V191.6H303.7V192.9H304.6V193.9H306.2V195.5H308.4V197H309.6V198H310.9V198.9H311.7V199.7H312.8V200.6H314V202H315.9V203.1H317.1V204H318.5V204.9H319.6V206H321.4V207.4H323.6V208.8H325.4V209.9H326.5V211H328.5V212.5H330.8V214H332.6V215H333.5V216.1H335.6V217.6H337.8V218.9H339.2V219.8H340.2V220.5H341.3V221.5H342.9V222.9H345.1V224.4H347V225.9H349.2V227H350.4V227.8H351.7V228.8H353.7V230.1H355.5V231.1H357V232.2H358.9V233.2H360.2V233.9H361.1V234.7H362.6V235.4H363.4V236.3H365.2V237.4H366.6V238.5H368.2V239.7H369.9V240.8H371.1V241.8H372.7V242.7H373.5V243.8H375.8V245.3H377.5V246.8H379.9V248H380.8V249H382.5V250.6H384.5V252.1H385.8V253.1H386.8V254H387.8V254.9H388.9V256.3H390.9V257.6H391.8V259H393.9V260.6H395.4V262H397.1V263.5H398.8V265.1H400.5V266.6H402.3V268.3H404.1V269.4H405.4V270.5H407.4V271.6H408.6V272.7H410.6V274.1H412.6V275.5H414.6V276.7H415.9V277.8H418V279.4H420.3V280.5H421.9V281.2H423.1V282H424.7V283.1H427V284H428.1V284.5H428.9V285.2H430.4V286.1H432.3V287.2H434.3V288.2H435.7V289.4H438.1V290.5H439.2V291.6H441.3V292.5H442.2V293.1H443V293.7H444.1V294.3H445V295.2H446.6V296.2H448.3V297.1H449.3V298.2H451.6V299.4H453V300.2H454.1V300.9H455.2V301.9H457.1V303.3H459.4V304.4H460.5V305H461.3V305.9H463.4V307H464.5V308.1H466.9V309.4H468.5V310.4H470.3V311.3H471.7V312.4H473.8V313.8H475.3V315.6H476.6V318H478.9V318.3H479.8H481.8H482.7H484.5H486H486.6" fill="none" stroke="#E4452F" stroke-width="2.4"/>
<path d="M172.5 96.4v14M174 97.1v14M176.2 98.1v14M178.1 99v14M180.8 100.3v14M183.6 101.5v14M185.8 102.6v14M187.5 103.4v14M189.3 104.2v14M191.1 105.1v14M193.1 106.1v14M194.8 106.9v14M196.5 107.8v14M198.9 109v14M201.2 110.1v14M203.1 111v14M205.9 112.4v14M207.6 113.4v14M209.8 114.7v14M211.4 115.7v14M214 117.3v14M216.6 118.8v14M218.4 119.9v14M220.8 121.4v14M223.4 123.1v14M225.2 124.9v14M227 126.7v14M229.1 128.8v14M231.8 131.5v14M233.4 133.1v14M235.7 135.4v14M238 137.7v14M240 139.7v14M242.2 141.4v14M244.9 143.5v14M246.6 144.9v14M249.2 147v14M251.1 148.5v14M253.6 150.5v14M256.2 152.5v14M257.9 154.5v14M260.5 157.6v14M263.3 161v14M265.1 162.9v14M266.5 163.7v14M268.1 164.6v14M270.8 166.1v14M272.2 166.9v14M274.9 168.4v14M276.5 169.3v14M279 170.6v14M280.5 171.5v14M282.1 172.4v14M284.5 173.7v14M286 174.5v14M287.9 175.5v14M290.6 177v14M293 178.3v14M295.6 179.7v14M298.4 181.3v14M299.8 182.5v14M301.6 184v14M304.1 186.1v14M306.4 188.1v14M307.9 189.3v14M310 191.1v14M311.7 192.5v14M313.7 194.2v14M315.3 195.4v14M316.7 196.4v14M319.5 198.4v14M321.3 199.8v14M324 201.7v14M325.5 202.8v14M327.6 204.3v14M329.2 205.4v14M331.2 206.9v14M332.9 208v14M335.2 209.8v14M336.8 210.9v14M339.3 212.7v14M341.4 214.2v14M342.9 215.3v14M344.8 216.7v14M346.9 218.2v14M349.6 220v14M351.5 221.2v14M353.2 222.3v14M355.9 224.1v14M358.6 225.8v14M361 227.3v14M362.8 228.5v14M364.4 229.5v14M366.2 230.8v14M367.7 231.9v14M369.1 233v14M371.3 234.5v14M373.2 236v14M375.4 237.6v14M377.3 239v14M378.7 240v14M381.1 241.8v14M383.4 243.8v14M385.6 245.7v14M387.7 247.7v14M390.1 249.8v14M392.9 252.3v14M395.5 254.6v14M397.9 256.8v14M399.9 258.5v14M401.7 260.2v14M403.7 261.8v14M406.5 263.8v14M408.4 265.1v14M410.3 266.5v14M412.3 267.8v14M413.9 268.9v14M416.7 270.9v14M418.1 271.9v14M420.4 273.2v14M423.1 274.7v14M424.8 275.7v14M427.1 276.9v14M429 278v14M430.7 279v14M432.4 279.9v14M434 280.8v14M436.6 282.4v14M439.1 284v14M441.7 285.7v14M443.2 286.7v14M445.6 288.2v14M447.4 289.4v14M449.7 290.9v14M451.9 292.3v14M453.8 293.5v14M456.5 295.3v14M457.9 296.2v14M460.4 297.8v14M463 299.5v14M465.1 300.9v14M467.3 302.3v14M470.1 304v14M471.8 305v14M474.1 306.6v14M476.5 309.8v14M478.5 311.3v14M480.9 311.3v14M482.8 311.3v14M485 311.3v14M486.6 311.3v14" fill="none" stroke="#E4452F" stroke-width="1"/>
<path d="M166 103.4h13M167.5 104.1h13M169.7 105.1h13M171.6 106h13M174.3 107.3h13M177.1 108.5h13M179.3 109.6h13M181 110.4h13M182.8 111.2h13M184.6 112.1h13M186.6 113.1h13M188.3 113.9h13M190 114.8h13M192.4 116h13M194.7 117.1h13M196.6 118h13M199.4 119.4h13M201.1 120.4h13M203.3 121.7h13M204.9 122.7h13M207.5 124.3h13M210.1 125.8h13M211.9 126.9h13M214.3 128.4h13M216.9 130.1h13M218.7 131.9h13M220.5 133.7h13M222.6 135.8h13M225.3 138.5h13M226.9 140.1h13M229.2 142.4h13M231.5 144.7h13M233.5 146.7h13M235.7 148.4h13M238.4 150.5h13M240.1 151.9h13M242.7 154h13M244.6 155.5h13M247.1 157.5h13M249.7 159.5h13M251.4 161.5h13M254 164.6h13M256.8 168h13M258.6 169.9h13M260 170.7h13M261.6 171.6h13M264.3 173.1h13M265.7 173.9h13M268.4 175.4h13M270 176.3h13M272.5 177.6h13M274 178.5h13M275.6 179.4h13M278 180.7h13M279.5 181.5h13M281.4 182.5h13M284.1 184h13M286.5 185.3h13M289.1 186.7h13M291.9 188.3h13M293.3 189.5h13M295.1 191h13M297.6 193.1h13M299.9 195.1h13M301.4 196.3h13M303.5 198.1h13M305.2 199.5h13M307.2 201.2h13M308.8 202.4h13M310.2 203.4h13M313 205.4h13M314.8 206.8h13M317.5 208.7h13M319 209.8h13M321.1 211.3h13M322.7 212.4h13M324.7 213.9h13M326.4 215h13M328.7 216.8h13M330.3 217.9h13M332.8 219.7h13M334.9 221.2h13M336.4 222.3h13M338.3 223.7h13M340.4 225.2h13M343.1 227h13M345 228.2h13M346.7 229.3h13M349.4 231.1h13M352.1 232.8h13M354.5 234.3h13M356.3 235.5h13M357.9 236.5h13M359.7 237.8h13M361.2 238.9h13M362.6 240h13M364.8 241.5h13M366.7 243h13M368.9 244.6h13M370.8 246h13M372.2 247h13M374.6 248.8h13M376.9 250.8h13M379.1 252.7h13M381.2 254.7h13M383.6 256.8h13M386.4 259.3h13M389 261.6h13M391.4 263.8h13M393.4 265.5h13M395.2 267.2h13M397.2 268.8h13M400 270.8h13M401.9 272.1h13M403.8 273.5h13M405.8 274.8h13M407.4 275.9h13M410.2 277.9h13M411.6 278.9h13M413.9 280.2h13M416.6 281.7h13M418.3 282.7h13M420.6 283.9h13M422.5 285h13M424.2 286h13M425.9 286.9h13M427.5 287.8h13M430.1 289.4h13M432.6 291h13M435.2 292.7h13M436.7 293.7h13M439.1 295.2h13M440.9 296.4h13M443.2 297.9h13M445.4 299.3h13M447.3 300.5h13M450 302.3h13M451.4 303.2h13M453.9 304.8h13M456.5 306.5h13M458.6 307.9h13M460.8 309.3h13M463.6 311h13M465.3 312h13M467.6 313.6h13M470 316.8h13M472 318.3h13M474.4 318.3h13M476.3 318.3h13M478.5 318.3h13M480.1 318.3h13" fill="none" stroke="#E4452F" stroke-width="1"/>
<path d="M428 72.5H446" stroke="#42B4D3" stroke-width="2.5"/>
<path d="M428 95.3H446" stroke="#E4452F" stroke-width="2.5"/>
<text x="457.6" y="78" font-size="16">Low</text>
<text x="457.6" y="100.5" font-size="16">High</text>
<text x="94.3" y="296.4" font-size="16.2" xml:space="preserve">HR = 1.29  (1.14  -  1.45)</text>
<text x="94.3" y="315.4" font-size="16.2" xml:space="preserve"><tspan font-style="italic">P</tspan> &lt; 0.001</text>
<text x="70" y="412.4" font-size="19.2" text-anchor="end" fill="#42B4D3">Low</text>
<text x="70" y="445.7" font-size="19.2" text-anchor="end" fill="#E4452F">High</text>
<text x="94" y="412.4" font-size="19.2" text-anchor="start" fill="#42B4D3">2029</text>
<text x="203.6" y="412.4" font-size="19.2" text-anchor="start" fill="#42B4D3">1659</text>
<text x="313.3" y="412.4" font-size="19.2" text-anchor="end" fill="#42B4D3">830</text>
<text x="423" y="412.4" font-size="19.2" text-anchor="end" fill="#42B4D3">188</text>
<text x="94" y="445.7" font-size="19.2" text-anchor="start" fill="#E4452F">2029</text>
<text x="203.6" y="445.7" font-size="19.2" text-anchor="start" fill="#E4452F">1644</text>
<text x="313.3" y="445.7" font-size="19.2" text-anchor="end" fill="#E4452F">908</text>
<text x="423" y="445.7" font-size="19.2" text-anchor="end" fill="#E4452F">249</text>
</g>
<g transform="translate(516.8 463)">
<text x="6.4" y="31" font-size="38.5">E</text>
<text x="290.8" y="41.1" font-size="19.8" text-anchor="middle">SIRI</text>
<path d="M86.4 50.5V327.6M85.4 326.6H494.2" fill="none" stroke="#000" stroke-width="2"/>
<text x="70.4" y="63.4" font-size="16" text-anchor="end">1.0</text>
<text x="70.4" y="111.1" font-size="16" text-anchor="end">0.9</text>
<text x="70.4" y="158.7" font-size="16" text-anchor="end">0.8</text>
<text x="70.4" y="206.4" font-size="16" text-anchor="end">0.7</text>
<text x="70.4" y="253.7" font-size="16" text-anchor="end">0.6</text>
<text x="70.4" y="301.4" font-size="16" text-anchor="end">0.5</text>
<text x="97.5" y="354.8" font-size="16" text-anchor="middle">0</text>
<text x="205.5" y="354.8" font-size="16" text-anchor="middle">50</text>
<text x="313.7" y="354.8" font-size="16" text-anchor="middle">100</text>
<text x="422.6" y="354.8" font-size="16" text-anchor="middle">150</text>
<path d="M77 58H86M77 105.7H86M77 153.3H86M77 201H86M77 248.3H86M77 296H86M94 326V335.3M203.6 326V335.3M313.3 326V335.3M423 326V335.3" fill="none" stroke="#000" stroke-width="2"/>
<text x="290.5" y="377.7" font-size="19" text-anchor="middle">Time</text>
<text transform="translate(37.6 189.3) rotate(-90)" font-size="19.4" text-anchor="middle">Survival probability</text>
<path d="M94.6 58H97.8V57.9H100.1V58.3H103.2V58.7H106V59.1H108.1V59.4H111.1V60H113.3V60.8H117.1V61.7H119.7V62.4H123V63H125.8V63.6H128.5V64.2H130.6V64.8H132.4V65.8H136.3V66.9H139.1V67.8H141.9V68.7H144.7V69.8H148.2V70.7H150.3V71.4H152.3V72.3H155.8V73.5H158.5V74.6H161.6V76H165.1V77.4H168.9V78.9H172.6V79.7H173.4V80.1H174.8V80.6H177V81.2H179.1V81.6H180.1V81.9H181.1V82.3H182.3V82.6H183.3V82.9H184.7V83.4H186.7V83.9H188.4V84.4H189.9V84.8H190.8V85.1H192.3V85.7H194.7V86.3H196.6V86.8H198.1V87.3H199.7V87.8H201.7V88.5H203.8V88.9H204.8V89.4H206.7V89.8H208.1V90.2H209.7V90.6H210.9V90.9H212.3V91.2H213.6V91.6H215V91.9H215.9V92.1H217V92.5H218.7V92.8H219.6V93H220.7V93.4H222.6V93.8H223.9V94.2H225.2V94.6H226.4V95.1H228.5V95.5H229.4V96H231.3V96.5H233.4V97H234.6V97.4H236V98H238.1V98.5H239.9V99.1H241.3V99.6H242.2V100.1H243.7V100.8H245.1V101.5H247V102.2H248.3V102.8H249.7V103.6H251.6V104.5H253.7V105.2H255V105.9H256.4V106.6H258.2V107.6H260.4V108.4H261.5V109.3H263.9V110.4H265.8V111.2H267.2V112H269.1V112.8H270.4V113.4H271.3V114.1H273.3V115H274.8V115.7H276.4V116.5H278V117.5H280.2V118.5H282.2V119.3H283.1V119.9H284.8V120.7H286.4V121.5H287.9V122.4H290.1V123.5H291.5V124.8H293.1V126.4H295.3V127.9H296.8V129.2H298.4V130.6H300V132.1H302.1V133.6H304V135.1H306V136.4H307.4V136.9H308.3V137.4H310.2V138.2H311.9V138.9H313.9V139.7H315.9V140.3H316.9V140.8H318.1V141.2H319V141.8H321.1V142.4H322.1V142.8H323V143.4H325V144.3H326.7V144.8H327.6V145.5H329.5V146.3H331.4V147.1H333V147.7H333.9V148.3H335.8V149.1H337.3V149.8H339V150.7H341.4V151.6H343.5V152.5H345.7V153.2H346.7V153.6H348.1V154.2H349.7V154.7H350.5V155.4H352.9V156.1H354.1V156.6H355.3V157.1H356.7V157.7H357.9V158.8H360V160.1H361.7V161.2H363.3V162.2H364.8V163H365.7V163.7H367V164.8H369.2V166.2H371.3V167.6H373.4V168.7H374.6V169.3H375.8V169.9H376.6V170.6H378.3V171.4H379.7V172.2H381.2V173H382.8V174H384.6V174.8H385.9V175.7H388V176.6H389.1V177.5H391.4V178.7H393.1V179.5H394V180.2H395.3V181H396.9V182H398.4V182.9H400.1V183.8H401.4V184.6H402.7V185.6H404.7V186.6H406V187.6H407.9V189.8H410V191.9H411.8V193.7H413.3V195.9H415.6V197.6H417.1V199.1H419.3V200.4H420.2V201.3H421.7V202.7H423.5V203.6H424.4V204.2H426.6V204.8H427.5V205.3H429.2V205.9H430.3V206.5H432.6V207.3H434.3V208.1H436.4V208.8H438V209.5H439.9V210.3H441.7V211.1H443V211.7H444.1V212.5H446.3V213.3H447.3V214.2H449.6V215H450.7V215.5H451.7V216H452.6V216.8H454.7V217.9H457V218.7H458.5V219.4H460.3V220H461.5V220.7H463.8V221.5H465.7V223.9H466.7V226.1H467.6V229.2H469.5V230.6H470.4V232.1H472.5V233.8H473.8V235.9H475V239.1H476.7V241.4H478H479.7H480.8H483H484.3H486.4" fill="none" stroke="#42B4D3" stroke-width="2.4"/>
<path d="M170.6 72v14M172.2 72.6v14M174.7 73.3v14M177.5 74.1v14M179.5 74.7v14M180.9 75.1v14M182.8 75.7v14M185.1 76.3v14M186.8 76.8v14M189 77.4v14M190.5 77.9v14M192.6 78.5v14M195 79.2v14M197 79.8v14M199.4 80.5v14M200.9 81v14M203.5 81.8v14M205 82.2v14M207.7 83v14M210.5 83.7v14M213.3 84.4v14M215.4 84.9v14M217.2 85.4v14M219.1 85.9v14M221.5 86.5v14M223.6 87v14M226.3 87.8v14M227.9 88.3v14M229.9 88.9v14M232.5 89.7v14M234.8 90.4v14M236.9 91v14M238.5 91.5v14M240.1 92v14M241.8 92.8v14M244.5 94v14M247.1 95.1v14M248.8 95.9v14M251.5 97.1v14M252.9 97.8v14M255.2 98.8v14M257.9 100.1v14M259.8 101v14M262.5 102.4v14M264.8 103.5v14M266.3 104.3v14M268.2 105.2v14M270.2 106.2v14M272 107.1v14M274.4 108.3v14M276 109.1v14M278.6 110.4v14M280.4 111.3v14M281.9 112v14M284.1 113.1v14M285.6 113.9v14M287.8 114.9v14M290.3 116.3v14M292.5 118.2v14M294.5 119.9v14M296 121.1v14M298.1 122.9v14M299.6 124.2v14M301.9 126v14M303.5 127.2v14M305.7 128.8v14M307.6 129.9v14M309.6 130.7v14M311.9 131.6v14M313.5 132.3v14M315.2 133v14M317.9 134v14M319.7 134.8v14M322.3 135.8v14M324.9 137v14M327 137.9v14M328.6 138.6v14M330.2 139.3v14M332.8 140.5v14M334.3 141.2v14M336.4 142.1v14M338.6 143.1v14M340.2 143.8v14M342.2 144.6v14M343.8 145.3v14M346 146.2v14M348.1 147v14M350 147.8v14M351.7 148.5v14M353.7 149.3v14M355.3 150v14M356.9 150.7v14M358.7 151.8v14M361.3 153.6v14M363.4 154.9v14M366 156.7v14M367.4 157.6v14M370.2 159.4v14M372.2 160.8v14M374.8 162.2v14M377 163.4v14M379.3 164.7v14M381 165.7v14M383.5 167v14M385.1 167.9v14M386.9 168.9v14M388.3 169.6v14M390.3 170.7v14M392.4 172v14M394.2 173.1v14M396.9 174.7v14M398.4 175.6v14M400.6 176.9v14M402.3 177.9v14M404.5 179.3v14M407 181v14M409.4 183.6v14M410.9 185.3v14M412.7 187.2v14M414.9 189.7v14M417.7 191.9v14M419.1 193.1v14M421.4 194.9v14M423.8 196.6v14M426.3 197.6v14M428.2 198.4v14M430.7 199.4v14M432.8 200.2v14M435.5 201.2v14M436.9 201.8v14M439.6 202.9v14M441.6 203.8v14M443.5 204.8v14M445.1 205.6v14M446.8 206.5v14M449.2 207.7v14M451.6 208.9v14M453.2 209.7v14M455.1 210.6v14M456.7 211.4v14M458.3 212.1v14M460.1 212.8v14M461.9 213.5v14M464.7 214.6v14M467.5 220.4v14M470 223.9v14M472.1 226v14M474.2 229.1v14M476.7 234.4v14M479.3 234.4v14M481.8 234.4v14M484.1 234.4v14M486.4 234.4v14" fill="none" stroke="#42B4D3" stroke-width="1"/>
<path d="M164.1 79h13M165.7 79.6h13M168.2 80.3h13M171 81.1h13M173 81.7h13M174.4 82.1h13M176.3 82.7h13M178.6 83.3h13M180.3 83.8h13M182.5 84.4h13M184 84.9h13M186.1 85.5h13M188.5 86.2h13M190.5 86.8h13M192.9 87.5h13M194.4 88h13M197 88.8h13M198.5 89.2h13M201.2 90h13M204 90.7h13M206.8 91.4h13M208.9 91.9h13M210.7 92.4h13M212.6 92.9h13M215 93.5h13M217.1 94h13M219.8 94.8h13M221.4 95.3h13M223.4 95.9h13M226 96.7h13M228.3 97.4h13M230.4 98h13M232 98.5h13M233.6 99h13M235.3 99.8h13M238 101h13M240.6 102.1h13M242.3 102.9h13M245 104.1h13M246.4 104.8h13M248.7 105.8h13M251.4 107.1h13M253.3 108h13M256 109.4h13M258.3 110.5h13M259.8 111.3h13M261.7 112.2h13M263.7 113.2h13M265.5 114.1h13M267.9 115.3h13M269.5 116.1h13M272.1 117.4h13M273.9 118.3h13M275.4 119h13M277.6 120.1h13M279.1 120.9h13M281.3 121.9h13M283.8 123.3h13M286 125.2h13M288 126.9h13M289.5 128.1h13M291.6 129.9h13M293.1 131.2h13M295.4 133h13M297 134.2h13M299.2 135.8h13M301.1 136.9h13M303.1 137.7h13M305.4 138.6h13M307 139.3h13M308.7 140h13M311.4 141h13M313.2 141.8h13M315.8 142.8h13M318.4 144h13M320.5 144.9h13M322.1 145.6h13M323.7 146.3h13M326.3 147.5h13M327.8 148.2h13M329.9 149.1h13M332.1 150.1h13M333.7 150.8h13M335.7 151.6h13M337.3 152.3h13M339.5 153.2h13M341.6 154h13M343.5 154.8h13M345.2 155.5h13M347.2 156.3h13M348.8 157h13M350.4 157.7h13M352.2 158.8h13M354.8 160.6h13M356.9 161.9h13M359.5 163.7h13M360.9 164.6h13M363.7 166.4h13M365.7 167.8h13M368.3 169.2h13M370.5 170.4h13M372.8 171.7h13M374.5 172.7h13M377 174h13M378.6 174.9h13M380.4 175.9h13M381.8 176.6h13M383.8 177.7h13M385.9 179h13M387.7 180.1h13M390.4 181.7h13M391.9 182.6h13M394.1 183.9h13M395.8 184.9h13M398 186.3h13M400.5 188h13M402.9 190.6h13M404.4 192.3h13M406.2 194.2h13M408.4 196.7h13M411.2 198.9h13M412.6 200.1h13M414.9 201.9h13M417.3 203.6h13M419.8 204.6h13M421.7 205.4h13M424.2 206.4h13M426.3 207.2h13M429 208.2h13M430.4 208.8h13M433.1 209.9h13M435.1 210.8h13M437 211.8h13M438.6 212.6h13M440.3 213.5h13M442.7 214.7h13M445.1 215.9h13M446.7 216.7h13M448.6 217.6h13M450.2 218.4h13M451.8 219.1h13M453.6 219.8h13M455.4 220.5h13M458.2 221.6h13M461 227.4h13M463.5 230.9h13M465.6 233h13M467.7 236.1h13M470.2 241.4h13M472.8 241.4h13M475.3 241.4h13M477.6 241.4h13M479.9 241.4h13" fill="none" stroke="#42B4D3" stroke-width="1"/>
<path d="M94.6 58H97.7V58.8H101.3V60.6H104.7V62H106.5V63.5H109.8V66.4H112.1V68.5H114V69.8H118V70.8H121.1V73.6H124.5V75.9H126.3V78.3H129.9V80.3H133.8V82.4H137.5V83.8H140.9V84.9H144.5V86.8H148V88.8H150.9V90.8H153.5V92.8H157.1V94.5H160.6V96.8H164.2V99.1H166.5V101.3H170.4V103.4H173.2V104.8H175.5V105.6H176.5V106.5H178.9V107.6H180.9V108.5H182.1V109.4H184.3V110.2H185.4V110.8H186.6V111.5H188.1V112.2H189.3V112.9H190.9V113.9H193.1V114.9H195V115.9H196.9V116.7H198.4V117.6H200.4V118.7H202.5V119.7H204.4V120.7H206.7V122H208.8V123.2H210.3V124.1H211.2V125H213V126.4H215.2V127.7H216.5V128.7H218.3V130.1H220.4V131.6H222.5V132.6H223.3V133.6H224.9V134.9H225.7V135.8H226.7V137.4H228.8V139.3H230.2V141H232V142.7H233.5V144.2H234.9V145.5H236V146.8H237.4V148.7H239.5V150.7H241.3V152.1H242.6V153.2H243.5V154.2H244.8V155.6H246.7V157.2H248.2V158.8H250.1V160.6H252.2V162.1H253.1V163.4H255V164.7H255.9V166H258V167.2H259.1V168H260.4V169.3H262.7V170.7H264.1V171.6H265.2V172.7H267.4V173.9H269.2V175.1H271.5V176.2H272.9V177.1H274.5V178.3H276.8V179.4H278.4V180.6H280.8V181.7H281.9V182.6H284V183.6H285.1V184.4H286.7V185.2H287.5V185.7H288.6V186.7H290.9V187.9H292.5V189H294.6V190H295.8V190.8H297.1V191.5H298.1V192.3H299.8V193.8H301.9V195.3H303.6V196.5H305V197.9H307.3V199.7H309.5V201.3H311.4V202.4H312.3V203.4H314.1V204.7H315.6V206.5H317.9V208.3H319.3V209.8H321.2V211.6H323V213.1H324.4V214.6H326V216.2H327.9V218.2H330.1V220.1H331.7V221.4H333.1V222.7H335.5V223.9H336.4V225H338.5V226.5H340.4V227.8H342.1V228.9H343.6V230.2H345.6V231.7H347.8V233.2H349.8V234.4H351.8V235.3H352.7V236H354V236.7H355V237.8H357.3V239.2H359.5V240.2H360.6V241.1H362.3V242.1H364V242.9H364.9V243.7H366.3V245H368.3V246.5H370.2V247.6H371.4V248.8H373.4V250.1H374.7V251.2H376.4V252.4H377.8V253.8H380.2V255.4H382V257.1H384.1V258.8H386V260.3H387.4V261.7H389.8V262.9H391.7V263.9H393.6V264.8H394.8V265.4H395.9V266.2H397.6V267.3H399.8V268.4H401.8V269.3H403.2V270H404.2V270.9H405.8V272.1H408V273.2H409.1V274.1H411.1V275.1H412.1V275.9H413.4V276.6H414.3V277.3H415.6V278.2H417V279.4H419.4V280.8H421.7V281.8H422.8V282.4H424.1V283.4H426.4V284.4H427.5V285.1H428.8V285.8H430.3V286.5H431.3V287.1H432.5V287.9H434V288.7H435.4V289.7H437.7V290.7H438.9V291.3H440.1V292.2H442.3V293.3H443.8V294.3H446V295.4H447.8V296.4H449.8V297.3H451.2V298.2H452.2V299.4H454.2V300.9H455.8V302.2H457.5V303.6H459.3V304.8H461.3V305.8H462.6V306.6H464V307.7H466.2V308.7H467.9V309.3H469.1V309.9H470.9V310.5H472.2V311.2H474.2V312.1H475.1V314.7H477.2V318H478.9V318.3H480.2H482.6H483.8H485H485.9H486.8" fill="none" stroke="#E4452F" stroke-width="2.4"/>
<path d="M173.1 97.3v14M175.6 98.5v14M177.9 99.8v14M179.9 100.8v14M182.4 102.1v14M184 102.9v14M185.8 103.9v14M188.1 105.1v14M190.9 106.5v14M193.1 107.6v14M195.5 108.8v14M198 110.1v14M199.9 111.1v14M202.7 112.4v14M205.1 113.6v14M207 114.7v14M208.9 116v14M211.5 117.8v14M213.4 119.1v14M215 120.3v14M217.6 122.1v14M219.8 123.6v14M221.9 125.1v14M224.2 127.1v14M226.9 129.9v14M228.5 131.5v14M230.4 133.5v14M231.9 135.1v14M233.8 137.1v14M235.9 139.3v14M238.5 142.1v14M240.9 144.4v14M243.1 146.4v14M245 148.3v14M247.2 150.3v14M249 152v14M251.6 154.4v14M254.1 156.7v14M256.7 159.1v14M258.3 160.2v14M260.6 161.9v14M263.1 163.7v14M265.2 165.2v14M267.9 166.8v14M270.5 168.4v14M273 169.8v14M275.5 171.3v14M277.8 172.7v14M280.4 174.3v14M282 175.3v14M284.4 176.7v14M286.8 178.1v14M289.1 179.5v14M290.8 180.6v14M292.3 181.5v14M294.6 182.8v14M297.1 184.4v14M298.9 185.6v14M300.6 186.9v14M302.3 188.2v14M303.9 189.4v14M306.2 191.2v14M309 193.4v14M311.5 195.3v14M313.4 196.8v14M315.8 198.8v14M317.3 200.3v14M319.8 202.7v14M321.7 204.5v14M323.1 205.9v14M325.4 208v14M327 209.6v14M328.8 211.3v14M330.3 212.7v14M332.3 214.5v14M334.5 216.1v14M337 217.9v14M338.4 218.9v14M341 220.8v14M342.6 221.9v14M344.3 223.2v14M346.5 224.8v14M348.4 226.1v14M350.3 227.3v14M352.5 228.7v14M354.2 229.7v14M356.7 231.3v14M358.4 232.3v14M361 233.9v14M363.5 235.5v14M365.6 237v14M367.1 238.1v14M369.6 239.9v14M371 241v14M373.1 242.6v14M375.1 244.1v14M376.6 245.2v14M378.9 247v14M381.3 248.8v14M383.5 250.7v14M385.5 252.4v14M387.6 254.3v14M389.8 255.6v14M391.5 256.5v14M394.2 257.9v14M397 259.5v14M399.5 260.9v14M402.2 262.4v14M404.1 263.4v14M406.9 265.3v14M408.4 266.2v14M410.4 267.6v14M412 268.6v14M414.1 269.9v14M416.4 271.5v14M418.8 273v14M420.8 274.2v14M422.7 275.2v14M424.4 276.1v14M426.3 277.2v14M428.1 278.2v14M429.8 279.1v14M432.2 280.5v14M434.4 281.7v14M436.4 282.8v14M438.1 283.7v14M440.4 285v14M442.1 285.9v14M443.9 286.9v14M446.1 288.1v14M448.5 289.4v14M451.2 291.1v14M453.7 293.1v14M456.4 295.3v14M459.1 297.3v14M461.5 298.7v14M463.9 300.1v14M465.4 301v14M467.1 301.8v14M468.5 302.4v14M471.1 303.4v14M473.5 304.4v14M475.8 307.7v14M477.6 310.7v14M479.5 311.3v14M481.1 311.3v14M483.4 311.3v14M486.8 311.3v14" fill="none" stroke="#E4452F" stroke-width="1"/>
<path d="M166.6 104.3h13M169.1 105.5h13M171.4 106.8h13M173.4 107.8h13M175.9 109.1h13M177.5 109.9h13M179.3 110.9h13M181.6 112.1h13M184.4 113.5h13M186.6 114.6h13M189 115.8h13M191.5 117.1h13M193.4 118.1h13M196.2 119.4h13M198.6 120.6h13M200.5 121.7h13M202.4 123h13M205 124.8h13M206.9 126.1h13M208.5 127.3h13M211.1 129.1h13M213.3 130.6h13M215.4 132.1h13M217.7 134.1h13M220.4 136.9h13M222 138.5h13M223.9 140.5h13M225.4 142.1h13M227.3 144.1h13M229.4 146.3h13M232 149.1h13M234.4 151.4h13M236.6 153.4h13M238.5 155.3h13M240.7 157.3h13M242.5 159h13M245.1 161.4h13M247.6 163.7h13M250.2 166.1h13M251.8 167.2h13M254.1 168.9h13M256.6 170.7h13M258.7 172.2h13M261.4 173.8h13M264 175.4h13M266.5 176.8h13M269 178.3h13M271.3 179.7h13M273.9 181.3h13M275.5 182.3h13M277.9 183.7h13M280.3 185.1h13M282.6 186.5h13M284.3 187.6h13M285.8 188.5h13M288.1 189.8h13M290.6 191.4h13M292.4 192.6h13M294.1 193.9h13M295.8 195.2h13M297.4 196.4h13M299.7 198.2h13M302.5 200.4h13M305 202.3h13M306.9 203.8h13M309.3 205.8h13M310.8 207.3h13M313.3 209.7h13M315.2 211.5h13M316.6 212.9h13M318.9 215h13M320.5 216.6h13M322.3 218.3h13M323.8 219.7h13M325.8 221.5h13M328 223.1h13M330.5 224.9h13M331.9 225.9h13M334.5 227.8h13M336.1 228.9h13M337.8 230.2h13M340 231.8h13M341.9 233.1h13M343.8 234.3h13M346 235.7h13M347.7 236.7h13M350.2 238.3h13M351.9 239.3h13M354.5 240.9h13M357 242.5h13M359.1 244h13M360.6 245.1h13M363.1 246.9h13M364.5 248h13M366.6 249.6h13M368.6 251.1h13M370.1 252.2h13M372.4 254h13M374.8 255.8h13M377 257.7h13M379 259.4h13M381.1 261.3h13M383.3 262.6h13M385 263.5h13M387.7 264.9h13M390.5 266.5h13M393 267.9h13M395.7 269.4h13M397.6 270.4h13M400.4 272.3h13M401.9 273.2h13M403.9 274.6h13M405.5 275.6h13M407.6 276.9h13M409.9 278.5h13M412.3 280h13M414.3 281.2h13M416.2 282.2h13M417.9 283.1h13M419.8 284.2h13M421.6 285.2h13M423.3 286.1h13M425.7 287.5h13M427.9 288.7h13M429.9 289.8h13M431.6 290.7h13M433.9 292h13M435.6 292.9h13M437.4 293.9h13M439.6 295.1h13M442 296.4h13M444.7 298.1h13M447.2 300.1h13M449.9 302.3h13M452.6 304.3h13M455 305.7h13M457.4 307.1h13M458.9 308h13M460.6 308.8h13M462 309.4h13M464.6 310.4h13M467 311.4h13M469.3 314.7h13M471.1 317.7h13M473 318.3h13M474.6 318.3h13M476.9 318.3h13M480.3 318.3h13" fill="none" stroke="#E4452F" stroke-width="1"/>
<path d="M428 72.5H446" stroke="#42B4D3" stroke-width="2.5"/>
<path d="M428 95.3H446" stroke="#E4452F" stroke-width="2.5"/>
<text x="457.6" y="78" font-size="16">Low</text>
<text x="457.6" y="100.5" font-size="16">High</text>
<text x="94.3" y="296.4" font-size="16.2" xml:space="preserve">HR = 1.95  (1.72  -  2.21)</text>
<text x="94.3" y="315.4" font-size="16.2" xml:space="preserve"><tspan font-style="italic">P</tspan> &lt; 0.001</text>
<text x="70" y="412.4" font-size="19.2" text-anchor="end" fill="#42B4D3">Low</text>
<text x="70" y="445.7" font-size="19.2" text-anchor="end" fill="#E4452F">High</text>
<text x="94" y="412.4" font-size="19.2" text-anchor="start" fill="#42B4D3">2029</text>
<text x="203.6" y="412.4" font-size="19.2" text-anchor="start" fill="#42B4D3">1722</text>
<text x="313.3" y="412.4" font-size="19.2" text-anchor="end" fill="#42B4D3">973</text>
<text x="423" y="412.4" font-size="19.2" text-anchor="end" fill="#42B4D3">252</text>
<text x="94" y="445.7" font-size="19.2" text-anchor="start" fill="#E4452F">2029</text>
<text x="203.6" y="445.7" font-size="19.2" text-anchor="start" fill="#E4452F">1581</text>
<text x="313.3" y="445.7" font-size="19.2" text-anchor="end" fill="#E4452F">765</text>
<text x="423" y="445.7" font-size="19.2" text-anchor="end" fill="#E4452F">185</text>
</g>
<g transform="translate(1035.3 463)">
<text x="7.4" y="31" font-size="38.5">F</text>
<text x="290.8" y="41.1" font-size="19.8" text-anchor="middle">AISI</text>
<path d="M86.4 50.5V327.6M85.4 326.6H494.2" fill="none" stroke="#000" stroke-width="2"/>
<text x="70.4" y="63.4" font-size="16" text-anchor="end">1.0</text>
<text x="70.4" y="114.7" font-size="16" text-anchor="end">0.9</text>
<text x="70.4" y="166.4" font-size="16" text-anchor="end">0.8</text>
<text x="70.4" y="217.7" font-size="16" text-anchor="end">0.7</text>
<text x="70.4" y="269.4" font-size="16" text-anchor="end">0.6</text>
<text x="70.4" y="321.1" font-size="16" text-anchor="end">0.5</text>
<text x="97.5" y="354.8" font-size="16" text-anchor="middle">0</text>
<text x="205.5" y="354.8" font-size="16" text-anchor="middle">50</text>
<text x="313.7" y="354.8" font-size="16" text-anchor="middle">100</text>
<text x="422.6" y="354.8" font-size="16" text-anchor="middle">150</text>
<path d="M77 58H86M77 109.3H86M77 161H86M77 212.3H86M77 264H86M77 315.7H86M94 326V335.3M203.6 326V335.3M313.3 326V335.3M423 326V335.3" fill="none" stroke="#000" stroke-width="2"/>
<text x="290.5" y="377.7" font-size="19" text-anchor="middle">Time</text>
<text transform="translate(37.6 189.3) rotate(-90)" font-size="19.4" text-anchor="middle">Survival probability</text>
<path d="M94.7 58H97V58.5H98.6V58.8H100.5V59.1H102.9V59.6H106.6V60.2H110.2V60.9H112.8V61.5H114.6V62.1H116.3V62.6H118.2V63.5H121.6V64.5H124.3V65.6H128.3V67H132.1V68.4H135.6V69.6H138.3V70.7H141.8V71.6H143.6V72.2H145.4V73.2H148.3V74.5H151.1V75.6H153.1V76.6H155.2V77.6H156.8V79H160.6V80.9H163.8V82.9H167.7V85.3H171.7V86.8H173.2V87.4H175.1V88H176.5V88.7H178.6V89.4H180.8V90H181.8V90.3H182.6V90.7H183.8V91.2H185.5V91.7H186.9V92.1H187.7V92.7H189.8V93.4H191.9V94.1H193.4V94.5H194.3V95H196.5V95.7H198.2V96.2H199.1V96.6H200.4V97.1H202.2V97.8H204.4V98.5H206V99.1H207.8V99.6H209V100H210.2V100.6H212.4V101.2H213.8V101.7H214.8V102.1H216.5V102.6H217.5V103H218.7V103.4H220.2V104H221.9V104.6H223.7V105.5H225.7V106.2H227.2V106.8H228.1V107.4H230V108.1H230.9V108.6H232.5V109.3H233.9V110H235.8V110.9H237.7V111.6H238.9V112.3H240.8V113H242.7V113.7H244.2V114.3H245.2V114.9H247.5V115.7H249.3V116.3H250.2V116.7H251.3V117.4H253.7V118.1H254.9V118.7H256.3V119.6H258.4V120.9H260.5V122.2H262.3V123.4H264.3V124.3H265.2V124.8H266.1V125.9H268.5V127.3H270.6V128.2H271.4V128.8H272.3V129.4H273.5V130.4H275.8V131.4H276.9V132.3H278.8V133.4H281.1V134.6H282.9V135.8H285.2V136.8H286.4V137.4H287.4V138H288.3V138.8H290.3V139.7H291.2V140.9H293.6V142.4H295.5V143.4H296.6V144.5H298.7V145.6H299.8V146.5H301.4V147.4H302.4V148.4H304.4V149.9H306.7V151.3H308.9V152.2H309.7V153H311.9V154.1H313.6V155.2H315.7V156.3H317.3V157.3H319.1V158.3H320.8V159.4H322.9V160.2H323.8V160.7H324.7V161.5H326.4V162.3H327.7V163.1H329.1V163.7H329.9V164.5H331.9V165.3H332.8V166.2H334.9V167.4H337V168.4H338.5V169.1H339.5V169.9H341.3V170.7H342.5V171.4H344V172H344.9V172.9H347.3V174H349V174.8H350.3V175.4H351.3V176.2H353.3V177.3H355.4V178.5H357.6V179.6H358.5V180.4H359.9V181.3H361.2V182.5H363.2V183.5H364.3V184.5H366V186H368.4V187.5H370.4V188.5H371.2V189.1H372.2V189.8H373.1V190.8H375.1V192.1H376.8V193.2H378.4V194.4H380V195.4H381.4V196.5H383.2V197.8H385V199.2H387.3V200.7H389.3V202.1H391.4V203.7H393.6V205.2H395.8V206.6H397.7V207.6H398.5V208.6H400.4V210H402.6V211.3H404.1V212.6H406.3V214H407.4V216.4H409.7V219.1H411.2V221.5H413.1V223.6H414.3V225.3H415.6V226.6H417V228H418.3V229.1H419.2V230.4H420.7V232.3H423.1V233.8H425V234.6H427.3V235.5H429.3V236.3H431.4V237.2H433.8V238.1H435.8V238.7H437V239.2H438.2V239.7H439.7V240.2H440.5V240.6H441.7V241.3H443.9V242.2H446.2V242.9H447.5V243.5H449.6V244.4H451.6V245.2H453.8V246.1H455.9V246.8H457.5V247.2H458.5V247.7H460.6V248.2H461.9V248.6H463.7V249.1H465.1V256.6H466.8V262.1H469.1V265H470.2V267.3H471.8V270.8H473.7V274.7H475.3V276.7H477.6H479.1H481.4H483.3H485.6H486.3" fill="none" stroke="#42B4D3" stroke-width="2.4"/>
<path d="M169.7 78.4v14M171.4 79.5v14M173.2 80.2v14M175.9 81.2v14M177.3 81.7v14M179.1 82.3v14M181.5 83.2v14M184.2 84.2v14M185.9 84.7v14M187.9 85.5v14M190.3 86.3v14M192.6 87.1v14M195.1 88v14M197.5 88.9v14M199.3 89.5v14M201 90.1v14M202.5 90.6v14M204.8 91.5v14M206.5 92.1v14M208.3 92.7v14M211 93.6v14M213.3 94.4v14M215.6 95.2v14M217.9 96v14M220.1 96.8v14M222.5 97.6v14M224.3 98.4v14M225.8 99.1v14M227.3 99.8v14M228.7 100.4v14M230.6 101.3v14M232.2 102v14M233.8 102.7v14M235.9 103.6v14M238.6 104.9v14M241 105.9v14M242.8 106.6v14M245.3 107.6v14M246.9 108.3v14M248.5 108.9v14M250.3 109.6v14M252.3 110.4v14M254.6 111.4v14M256.6 112.3v14M259.1 113.9v14M260.6 114.8v14M263.3 116.6v14M265.2 117.7v14M267.7 119.4v14M269.2 120.3v14M271.7 121.9v14M273.5 122.9v14M276.1 124.4v14M278.6 125.8v14M280.9 127.2v14M282.7 128.2v14M284.1 129v14M285.8 129.9v14M288.5 131.5v14M290.1 132.5v14M292.4 134.1v14M294.6 135.6v14M297 137.2v14M298.6 138.3v14M300.2 139.4v14M301.7 140.5v14M304.5 142.4v14M306.5 143.7v14M308.8 145v14M311 146.3v14M312.7 147.3v14M314.2 148.1v14M315.6 148.9v14M318.2 150.4v14M319.8 151.3v14M322.5 152.9v14M324.4 154v14M326.8 155.4v14M328.4 156.3v14M330.9 157.7v14M332.7 158.7v14M334.6 159.8v14M336.7 161v14M338.3 161.9v14M340 162.8v14M342.5 164.2v14M344.3 165.1v14M346.3 166.2v14M348.7 167.5v14M350.5 168.4v14M352.1 169.3v14M353.8 170.2v14M355.8 171.2v14M357.7 172.5v14M360 174.1v14M362 175.6v14M364.7 177.4v14M366.1 178.4v14M368.5 180v14M371 181.8v14M372.8 183v14M374.2 184.1v14M376.2 185.5v14M377.8 186.6v14M379.8 188v14M382.2 189.7v14M383.8 190.7v14M385.3 191.8v14M387.4 193.3v14M389 194.4v14M390.8 195.6v14M392.8 197.1v14M394.3 198.2v14M395.8 199.2v14M397.7 200.5v14M399.8 202v14M402.5 203.9v14M404.7 205.4v14M406.2 206.5v14M407.9 208.9v14M410.3 212.3v14M412.5 215.4v14M415.1 218.8v14M417.9 221.5v14M420.5 224.2v14M422 225.7v14M424.8 227.2v14M426.9 228.1v14M428.6 228.7v14M430.3 229.4v14M432.9 230.4v14M434.6 231.1v14M436.1 231.7v14M437.9 232.4v14M440.6 233.5v14M442.6 234.3v14M445 235.3v14M446.5 235.9v14M448.6 236.7v14M450.4 237.4v14M452.1 238.1v14M454.4 239v14M456.3 239.8v14M457.9 240.2v14M460.7 241.1v14M462.8 241.7v14M464.4 242.3v14M465.8 250.6v14M468.1 255.9v14M470.3 259.6v14M471.7 262.2v14M473.8 266.7v14M476.2 269.7v14M478.3 269.7v14M480.1 269.7v14M482.2 269.7v14M484.4 269.7v14M486.3 269.7v14" fill="none" stroke="#42B4D3" stroke-width="1"/>
<path d="M163.2 85.4h13M164.9 86.5h13M166.7 87.2h13M169.4 88.2h13M170.8 88.7h13M172.6 89.3h13M175 90.2h13M177.7 91.2h13M179.4 91.7h13M181.4 92.5h13M183.8 93.3h13M186.1 94.1h13M188.6 95h13M191 95.9h13M192.8 96.5h13M194.5 97.1h13M196 97.6h13M198.3 98.5h13M200 99.1h13M201.8 99.7h13M204.5 100.6h13M206.8 101.4h13M209.1 102.2h13M211.4 103h13M213.6 103.8h13M216 104.6h13M217.8 105.4h13M219.3 106.1h13M220.8 106.8h13M222.2 107.4h13M224.1 108.3h13M225.7 109h13M227.3 109.7h13M229.4 110.6h13M232.1 111.9h13M234.5 112.9h13M236.3 113.6h13M238.8 114.6h13M240.4 115.3h13M242 115.9h13M243.8 116.6h13M245.8 117.4h13M248.1 118.4h13M250.1 119.3h13M252.6 120.9h13M254.1 121.8h13M256.8 123.6h13M258.7 124.7h13M261.2 126.4h13M262.7 127.3h13M265.2 128.9h13M267 129.9h13M269.6 131.4h13M272.1 132.8h13M274.4 134.2h13M276.2 135.2h13M277.6 136h13M279.3 136.9h13M282 138.5h13M283.6 139.5h13M285.9 141.1h13M288.1 142.6h13M290.5 144.2h13M292.1 145.3h13M293.7 146.4h13M295.2 147.5h13M298 149.4h13M300 150.7h13M302.3 152h13M304.5 153.3h13M306.2 154.3h13M307.7 155.1h13M309.1 155.9h13M311.7 157.4h13M313.3 158.3h13M316 159.9h13M317.9 161h13M320.3 162.4h13M321.9 163.3h13M324.4 164.7h13M326.2 165.7h13M328.1 166.8h13M330.2 168h13M331.8 168.9h13M333.5 169.8h13M336 171.2h13M337.8 172.1h13M339.8 173.2h13M342.2 174.5h13M344 175.4h13M345.6 176.3h13M347.3 177.2h13M349.3 178.2h13M351.2 179.5h13M353.5 181.1h13M355.5 182.6h13M358.2 184.4h13M359.6 185.4h13M362 187h13M364.5 188.8h13M366.3 190h13M367.7 191.1h13M369.7 192.5h13M371.3 193.6h13M373.3 195h13M375.7 196.7h13M377.3 197.7h13M378.8 198.8h13M380.9 200.3h13M382.5 201.4h13M384.3 202.6h13M386.3 204.1h13M387.8 205.2h13M389.3 206.2h13M391.2 207.5h13M393.3 209h13M396 210.9h13M398.2 212.4h13M399.7 213.5h13M401.4 215.9h13M403.8 219.3h13M406 222.4h13M408.6 225.8h13M411.4 228.5h13M414 231.2h13M415.5 232.7h13M418.3 234.2h13M420.4 235.1h13M422.1 235.7h13M423.8 236.4h13M426.4 237.4h13M428.1 238.1h13M429.6 238.7h13M431.4 239.4h13M434.1 240.5h13M436.1 241.3h13M438.5 242.3h13M440 242.9h13M442.1 243.7h13M443.9 244.4h13M445.6 245.1h13M447.9 246h13M449.8 246.8h13M451.4 247.2h13M454.2 248.1h13M456.3 248.7h13M457.9 249.3h13M459.3 257.6h13M461.6 262.9h13M463.8 266.6h13M465.2 269.2h13M467.3 273.7h13M469.7 276.7h13M471.8 276.7h13M473.6 276.7h13M475.7 276.7h13M477.9 276.7h13M479.8 276.7h13" fill="none" stroke="#42B4D3" stroke-width="1"/>
<path d="M94.7 58H96.6V58.6H100.1V60.5H103.9V62.3H107.3V65H110.9V68H113.3V69.7H117.1V70.5H119.1V71.5H121.1V73.4H124.1V75.9H127.9V77.7H129.6V78.7H131.6V79.7H133.2V80.8H135.8V82H137.7V83H139.6V84.4H143V86.1H146V87.8H149.8V89.2H152.3V90.6H155.5V91.9H157.1V93.6H160.9V95.4H163V96.9H165.7V98.9H168.5V101.4H172.4V103.1H173.9V104H176.3V104.9H178.1V105.6H179.3V106.3H181.4V107H182.5V107.8H184.9V108.7H186.5V109.3H187.6V110.1H190V111H191.3V111.8H192.7V112.5H194.1V113.4H195.9V114.2H196.8V114.8H198.2V115.5H199.2V116.3H201.4V117.1H202.2V117.9H203.9V118.7H205.1V119.4H206.7V120.4H208.4V121.5H210.3V122.4H211.3V123H212.5V123.7H213.5V124.7H215.8V125.7H216.9V126.3H217.9V127.1H219.5V128.1H221.3V129.3H223.5V130.7H224.4V131.8H225.5V133.1H226.6V134.6H228.4V136.4H229.9V138H231.3V140H233.6V142.3H235.4V144.5H237.6V147H239.9V148.6H241.1V150H243.5V151.5H244.9V152.4H245.8V153.6H248.1V154.9H249V155.6H249.8V156.4H251.1V157.4H252.4V158.8H254.7V160.5H256.9V162.3H258.4V163.9H260V165.9H262.2V168.2H264.3V170H266.1V171.2H267.7V172H268.7V172.8H269.9V173.8H271.8V174.9H273.5V176.2H275.6V177.6H277.8V179.1H280.2V180.3H281.3V180.9H282.2V182H284.4V183.2H286.2V184.1H287.2V185.1H289.2V186.1H290.4V186.9H291.5V187.7H292.9V188.7H294.6V189.9H296.4V190.8H297.4V191.9H299.4V193.8H301.2V195.5H302.7V197.2H304.6V199.2H306.7V200.7H307.5V201.9H309V203.6H310.9V205.6H312.9V207.5H314.7V208.8H315.8V210.2H318.1V211.9H320.2V213.2H321.3V214.3H322.8V215.8H325.2V217.2H326.3V218.2H327.8V219.7H330.1V221.5H332.3V222.8H333.5V223.9H335.5V225.1H336.9V226.2H338.7V227.6H340.7V228.6H341.7V229.4H342.9V230.2H344V231H345.3V231.8H346.1V232.4H347.1V233.3H348.6V234.2H350.1V234.9H351V235.7H352.7V236.9H355V238.1H356.8V239.1H358.1V240H360.1V241.1H361.6V241.8H362.6V242.6H364.2V243.4H365V244.5H366.9V245.7H368V246.7H369.4V248.3H371.7V250.1H373.7V251.9H375.9V253.5H377.7V255.1H379.5V256.5H381.4V257.9H383.8V259H384.9V260H386.9V261H388.2V261.8H389.4V262.9H391.5V264.1H393.3V265.3H395.4V266.8H397.6V268.2H399.4V269.2H400.5V269.9H401.3V270.8H403V272.1H404.9V273.2H406.2V273.9H407.1V274.6H407.9V275.2H409V276.3H410.9V277.2H411.7V277.7H412.9V278.4H414.1V279.3H416V280.5H418.4V281.3H419.2V281.8H420.2V282.7H422.5V284H424.9V284.9H425.9V285.6H427.2V286.4H428.9V287.2H430.2V288H431.7V288.8H433.2V289.6H434.4V290.2H435.3V290.7H436.3V291.2H437.3V291.8H438.3V292.5H440.1V293.5H442V294.5H443.2V296.1H445.3V298.2H447.2V299.8H448.6V301.3H450.2V302.5H451.3V303.5H453.6V304.7H455.3V305.5H456.1V306H457.2V306.9H459.1V307.5H460.5V308H462.5V308.5H463.6V309.1H465.7V309.8H467.8V310.3H468.7V310.7H470.5V311.9H471.6V313.3H473.5V315.3H475.6V317.3H477.7V318.3H478.8H479.8H481.6H483.3H484.4H485.5H486.3" fill="none" stroke="#E4452F" stroke-width="2.4"/>
<path d="M172.2 95.8v14M173.8 96.5v14M176 97.5v14M177.8 98.3v14M179.5 99.1v14M181.5 100v14M183.7 100.9v14M186.1 102v14M187.5 102.7v14M189.9 103.8v14M191.7 104.7v14M193.5 105.7v14M195.8 107v14M198.1 108.3v14M200.4 109.6v14M203.1 111v14M204.7 111.9v14M206.6 113v14M208.9 114.4v14M210.7 115.5v14M212.3 116.4v14M214 117.5v14M216.5 119v14M219 120.5v14M221.4 121.9v14M224.2 124.3v14M226.7 127.1v14M228.5 129.1v14M230.4 131.1v14M232.8 133.7v14M234.3 135.4v14M236.5 137.8v14M238 139.5v14M239.5 141.1v14M241.6 142.7v14M243.2 144v14M245.9 146.1v14M248.6 148.1v14M250.6 149.7v14M252.3 151v14M253.9 152.3v14M256 153.9v14M258.1 156.1v14M260 158.1v14M262.4 160.6v14M264.6 162.8v14M267 164.4v14M268.6 165.5v14M270.1 166.4v14M272 167.7v14M274.1 169.1v14M275.9 170.2v14M278.2 171.8v14M279.9 172.9v14M281.7 174.1v14M283.8 175.5v14M286.2 177v14M288.7 178.6v14M290.6 179.9v14M292.6 181.2v14M295.3 183v14M298 184.8v14M300.3 187.1v14M301.9 188.7v14M303.9 190.8v14M306.2 193.1v14M308 194.9v14M309.4 196.4v14M312.2 199.2v14M314.9 201.8v14M316.5 203v14M318.5 204.7v14M320.8 206.5v14M322.6 207.9v14M324.1 209.1v14M326.5 211.1v14M329 213v14M331 214.6v14M332.6 215.7v14M334.5 217.1v14M336 218.2v14M338.8 220.1v14M340.3 221.2v14M342.1 222.4v14M344.5 224.2v14M346.1 225.3v14M347.7 226.4v14M349.2 227.3v14M350.8 228.3v14M352.9 229.5v14M355.5 231.1v14M357.2 232.1v14M358.8 233v14M361.3 234.5v14M363.3 235.7v14M365.1 237v14M366.7 238.3v14M368.4 239.8v14M371.2 242.1v14M372.8 243.4v14M374.5 244.9v14M377 247v14M379.6 249.1v14M382.3 250.8v14M384.3 252.2v14M387.1 253.9v14M389.3 255.3v14M391.1 256.5v14M393.2 257.8v14M395.6 259.3v14M398 261.1v14M399.6 262.2v14M401.3 263.4v14M404 265.3v14M405.6 266.4v14M408.1 268.2v14M410 269.5v14M411.7 270.6v14M413.5 271.6v14M415.5 272.7v14M418.3 274.2v14M419.9 275.1v14M422.5 276.5v14M424.4 277.5v14M426 278.4v14M428.5 279.8v14M430.3 280.8v14M432 281.7v14M434 282.8v14M436.5 284.2v14M439.1 285.7v14M441.4 286.9v14M442.8 288v14M445.2 290.4v14M447.5 292.7v14M450.1 295.3v14M452.9 296.9v14M454.7 298.1v14M457.3 299.6v14M459.9 300.6v14M461.6 301.2v14M463.6 301.8v14M465.5 302.4v14M467.4 303.1v14M469.3 303.7v14M470.9 305v14M472.6 306.7v14M475.2 309.2v14M477.2 311.1v14M479.5 311.3v14M482.2 311.3v14M484.6 311.3v14M486.3 311.3v14" fill="none" stroke="#E4452F" stroke-width="1"/>
<path d="M165.7 102.8h13M167.3 103.5h13M169.5 104.5h13M171.3 105.3h13M173 106.1h13M175 107h13M177.2 107.9h13M179.6 109h13M181 109.7h13M183.4 110.8h13M185.2 111.7h13M187 112.7h13M189.3 114h13M191.6 115.3h13M193.9 116.6h13M196.6 118h13M198.2 118.9h13M200.1 120h13M202.4 121.4h13M204.2 122.5h13M205.8 123.4h13M207.5 124.5h13M210 126h13M212.5 127.5h13M214.9 128.9h13M217.7 131.3h13M220.2 134.1h13M222 136.1h13M223.9 138.1h13M226.3 140.7h13M227.8 142.4h13M230 144.8h13M231.5 146.5h13M233 148.1h13M235.1 149.7h13M236.7 151h13M239.4 153.1h13M242.1 155.1h13M244.1 156.7h13M245.8 158h13M247.4 159.3h13M249.5 160.9h13M251.6 163.1h13M253.5 165.1h13M255.9 167.6h13M258.1 169.8h13M260.5 171.4h13M262.1 172.5h13M263.6 173.4h13M265.5 174.7h13M267.6 176.1h13M269.4 177.2h13M271.7 178.8h13M273.4 179.9h13M275.2 181.1h13M277.3 182.5h13M279.7 184h13M282.2 185.6h13M284.1 186.9h13M286.1 188.2h13M288.8 190h13M291.5 191.8h13M293.8 194.1h13M295.4 195.7h13M297.4 197.8h13M299.7 200.1h13M301.5 201.9h13M302.9 203.4h13M305.7 206.2h13M308.4 208.8h13M310 210h13M312 211.7h13M314.3 213.5h13M316.1 214.9h13M317.6 216.1h13M320 218.1h13M322.5 220h13M324.5 221.6h13M326.1 222.7h13M328 224.1h13M329.5 225.2h13M332.3 227.1h13M333.8 228.2h13M335.6 229.4h13M338 231.2h13M339.6 232.3h13M341.2 233.4h13M342.7 234.3h13M344.3 235.3h13M346.4 236.5h13M349 238.1h13M350.7 239.1h13M352.3 240h13M354.8 241.5h13M356.8 242.7h13M358.6 244h13M360.2 245.3h13M361.9 246.8h13M364.7 249.1h13M366.3 250.4h13M368 251.9h13M370.5 254h13M373.1 256.1h13M375.8 257.8h13M377.8 259.2h13M380.6 260.9h13M382.8 262.3h13M384.6 263.5h13M386.7 264.8h13M389.1 266.3h13M391.5 268.1h13M393.1 269.2h13M394.8 270.4h13M397.5 272.3h13M399.1 273.4h13M401.6 275.2h13M403.5 276.5h13M405.2 277.6h13M407 278.6h13M409 279.7h13M411.8 281.2h13M413.4 282.1h13M416 283.5h13M417.9 284.5h13M419.5 285.4h13M422 286.8h13M423.8 287.8h13M425.5 288.7h13M427.5 289.8h13M430 291.2h13M432.6 292.7h13M434.9 293.9h13M436.3 295h13M438.7 297.4h13M441 299.7h13M443.6 302.3h13M446.4 303.9h13M448.2 305.1h13M450.8 306.6h13M453.4 307.6h13M455.1 308.2h13M457.1 308.8h13M459 309.4h13M460.9 310.1h13M462.8 310.7h13M464.4 312h13M466.1 313.7h13M468.7 316.2h13M470.7 318.1h13M473 318.3h13M475.7 318.3h13M478.1 318.3h13M479.8 318.3h13" fill="none" stroke="#E4452F" stroke-width="1"/>
<path d="M428 72.5H446" stroke="#42B4D3" stroke-width="2.5"/>
<path d="M428 95.3H446" stroke="#E4452F" stroke-width="2.5"/>
<text x="457.6" y="78" font-size="16">Low</text>
<text x="457.6" y="100.5" font-size="16">High</text>
<text x="94.3" y="296.4" font-size="16.2" xml:space="preserve">HR = 1.52  (1.34  -  1.72)</text>
<text x="94.3" y="315.4" font-size="16.2" xml:space="preserve"><tspan font-style="italic">P</tspan> &lt; 0.001</text>
<text x="70" y="412.4" font-size="19.2" text-anchor="end" fill="#42B4D3">Low</text>
<text x="70" y="445.7" font-size="19.2" text-anchor="end" fill="#E4452F">High</text>
<text x="94" y="412.4" font-size="19.2" text-anchor="start" fill="#42B4D3">2029</text>
<text x="203.6" y="412.4" font-size="19.2" text-anchor="start" fill="#42B4D3">1689</text>
<text x="313.3" y="412.4" font-size="19.2" text-anchor="end" fill="#42B4D3">896</text>
<text x="423" y="412.4" font-size="19.2" text-anchor="end" fill="#42B4D3">202</text>
<text x="94" y="445.7" font-size="19.2" text-anchor="start" fill="#E4452F">2029</text>
<text x="203.6" y="445.7" font-size="19.2" text-anchor="start" fill="#E4452F">1614</text>
<text x="313.3" y="445.7" font-size="19.2" text-anchor="end" fill="#E4452F">842</text>
<text x="423" y="445.7" font-size="19.2" text-anchor="end" fill="#E4452F">235</text>
</g>
</svg></body></html>
